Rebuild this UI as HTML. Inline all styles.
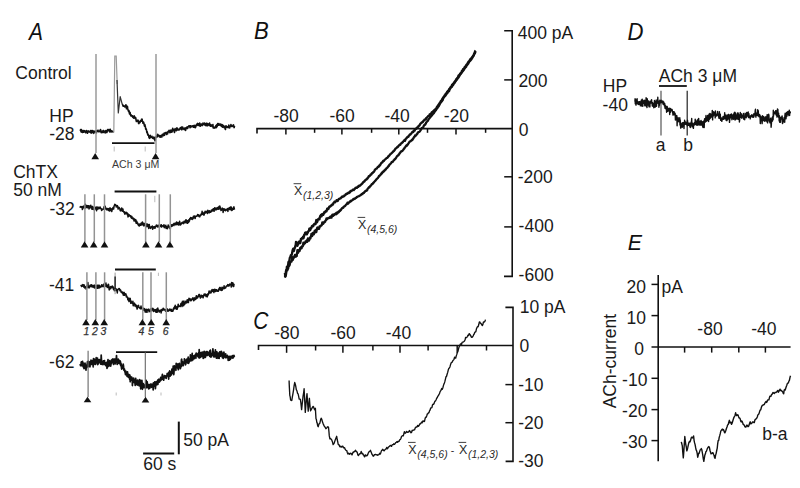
<!DOCTYPE html>
<html><head><meta charset="utf-8"><title>Figure</title>
<style>html,body{margin:0;padding:0;background:#fff;width:800px;height:488px;overflow:hidden}
svg{display:block;font-family:"Liberation Sans",sans-serif}</style></head>
<body><svg width="800" height="488" viewBox="0 0 800 488" font-family="Liberation Sans, sans-serif"><text x="0" y="0" font-size="23" font-style="italic" fill="#111" transform="translate(29.0 39.6) scale(0.910 1)">A</text><text x="15.3" y="78.6" font-size="17.50" text-anchor="start" fill="#1a1a1a" >Control</text><text x="73.6" y="122.2" font-size="17.50" text-anchor="end" fill="#1a1a1a" >HP</text><text x="74.5" y="140.0" font-size="17.50" text-anchor="end" fill="#1a1a1a" >-28</text><path d="M80.0 130.2L80.3 130.5L80.6 129.4L80.9 131.2L81.2 132.1L81.5 129.4L81.8 132.2L82.1 130.7L82.4 132.5L82.7 130.8L83.0 132.0L83.3 132.3L83.6 130.5L83.9 132.2L84.2 132.1L84.5 130.7L84.8 130.6L85.1 131.3L85.4 131.0L85.7 132.8L86.0 132.3L86.3 132.4L86.6 130.6L86.9 130.6L87.2 131.1L87.5 133.3L87.8 131.5L88.1 132.1L88.4 131.6L88.7 130.9L89.0 132.0L89.3 131.8L89.6 131.7L89.9 132.1L90.2 131.9L90.5 130.6L90.8 131.3L91.1 133.2L91.4 130.9L91.7 130.5L92.0 132.7L92.3 132.7L92.6 130.4L92.9 132.0L93.2 131.0L93.5 131.0L93.8 133.4L94.1 131.4L94.4 131.2L94.7 131.3L95.0 132.1L95.3 131.4L95.6 131.7L95.9 130.9L96.2 131.5L96.5 132.8L96.8 130.8L97.1 131.5L97.4 131.2L97.7 130.5L98.0 130.1L98.3 131.3L98.6 131.3L98.9 131.9L99.2 131.0L99.5 131.0L99.8 131.5L100.1 130.7L100.4 129.5L100.7 129.8L101.0 132.3L101.3 132.7L101.6 131.2L101.9 131.3L102.2 131.5L102.5 132.4L102.8 132.4L103.1 130.6L103.4 132.4L103.7 130.5L104.0 131.8L104.3 131.1L104.6 131.5L104.9 132.6L105.2 132.9L105.5 131.4L105.8 130.5L106.1 132.4L106.4 130.8L106.7 131.7L107.0 132.5L107.3 130.4L107.6 129.4L107.9 131.0L108.2 130.7L108.5 129.4L108.8 130.1L109.1 129.9L109.4 129.6L109.7 132.0L110.0 130.9L110.3 129.2L110.6 131.4L110.9 131.6L111.2 131.9L111.5 130.7L111.8 131.4L112.1 131.6L112.4 131.1L112.7 131.7L113.0 131.6L113.3 132.1L113.6 132.3" stroke="#111" stroke-width="1.5" fill="none" stroke-linejoin="round"/><path d="M113.8 132.5L114.8 56L116.2 56L117.2 84" stroke="#999" stroke-width="1.2" fill="none"/><path d="M117.0 80L118.3 113L120.2 96.6L122.3 104.5" stroke="#333" stroke-width="1.2" fill="none" stroke-linejoin="round"/><path d="M122.3 104.9L122.6 104.6L122.9 105.4L123.2 106.2L123.5 105.9L123.8 105.9L124.1 106.4L124.4 106.1L124.7 106.8L125.0 106.2L125.3 106.9L125.6 105.6L125.9 104.7L126.2 105.7L126.5 108.8L126.8 108.2L127.1 108.4L127.4 106.3L127.7 108.4L128.0 109.7L128.3 110.7L128.6 111.5L128.9 110.4L129.2 111.9L129.5 113.9L129.8 113.3L130.1 112.4L130.4 114.9L130.7 115.1L131.0 115.9L131.3 115.1L131.6 115.9L131.9 115.7L132.2 116.4L132.5 115.9L132.8 117.4L133.1 117.4L133.4 116.6L133.7 118.2L134.0 116.6L134.3 115.9L134.6 118.0L134.9 117.8L135.2 118.5L135.5 117.4L135.8 118.2L136.1 120.3L136.4 121.5L136.7 121.1L137.0 120.6L137.3 120.9L137.6 121.4L137.9 120.1L138.2 120.7L138.5 123.2L138.8 123.6L139.1 122.9L139.4 122.3L139.7 121.7L140.0 122.6L140.3 120.8L140.6 120.8L140.9 121.3L141.2 121.3L141.5 119.4L141.8 119.7L142.1 119.1L142.4 121.1L142.7 121.7L143.0 123.3L143.3 122.7L143.6 122.2L143.9 123.3L144.2 124.9L144.5 126.1L144.8 124.5L145.1 125.7L145.4 126.9L145.7 129.2L146.0 128.7L146.3 129.0L146.6 130.9L146.9 132.7L147.2 131.7L147.5 133.4L147.8 135.0L148.1 134.3L148.4 135.4L148.7 135.6L149.0 137.7L149.3 137.8L149.6 138.4L149.9 138.2L150.2 135.3L150.5 137.0L150.8 136.7L151.1 137.1L151.4 136.7L151.7 137.2L152.0 136.3L152.3 137.9L152.6 138.2L152.9 138.2L153.2 137.6L153.5 138.7L153.8 137.0L154.1 138.7L154.4 137.6L154.7 138.7L155.0 140.8L155.3 139.9L155.6 137.6L155.9 137.2L156.2 136.6L156.5 137.1L156.8 137.2L157.1 135.1L157.4 136.5L157.7 134.4L158.0 135.1L158.3 135.2L158.6 135.3L158.9 135.9L159.2 136.6L159.5 136.8L159.8 135.5L160.1 135.8L160.4 137.2L160.7 137.0L161.0 135.5L161.3 136.1L161.6 135.9L161.9 136.9L162.2 134.5L162.5 134.2L162.8 134.3L163.1 134.9L163.4 135.6L163.7 135.6L164.0 133.3L164.3 133.0L164.6 135.2L164.9 133.7L165.2 132.9L165.5 133.4L165.8 133.4L166.1 132.3L166.4 133.8L166.7 134.5L167.0 133.1L167.3 132.7L167.6 133.8L167.9 131.6L168.2 132.0L168.5 131.1L168.8 132.0L169.1 130.2L169.4 131.7L169.7 131.4L170.0 132.8L170.3 131.8L170.6 131.4L170.9 130.0L171.2 132.2L171.5 131.0L171.8 130.9L172.1 132.0L172.4 129.8L172.7 128.3L173.0 130.4L173.3 130.1L173.6 129.4L173.9 130.5L174.2 131.5L174.5 132.4L174.8 130.5L175.1 128.6L175.4 128.8L175.7 129.9L176.0 130.0L176.3 130.7L176.6 129.6L176.9 127.8L177.2 129.3L177.5 128.5L177.8 130.0L178.1 129.4L178.4 129.8L178.7 130.0L179.0 130.0L179.3 129.0L179.6 129.2L179.9 129.4L180.2 127.9L180.5 128.5L180.8 128.5L181.1 128.8L181.4 127.1L181.7 129.8L182.0 129.6L182.3 127.9L182.6 127.1L182.9 128.6L183.2 128.2L183.5 128.4L183.8 129.2L184.1 128.9L184.4 129.6L184.7 128.1L185.0 128.7L185.3 128.9L185.6 130.4L185.9 127.9L186.2 128.2L186.5 127.9L186.8 128.3L187.1 126.8L187.4 127.7L187.7 128.4L188.0 127.2L188.3 126.7L188.6 126.6L188.9 125.7L189.2 126.4L189.5 126.0L189.8 126.8L190.1 127.7L190.4 125.8L190.7 125.7L191.0 127.0L191.3 126.7L191.6 126.6L191.9 126.1L192.2 126.6L192.5 126.2L192.8 125.7L193.1 125.8L193.4 127.2L193.7 125.5L194.0 125.7L194.3 125.7L194.6 127.4L194.9 125.4L195.2 125.7L195.5 127.6L195.8 126.2L196.1 125.9L196.4 125.6L196.7 124.3L197.0 124.9L197.3 123.6L197.6 123.4L197.9 125.4L198.2 124.9L198.5 123.9L198.8 125.1L199.1 125.6L199.4 124.8L199.7 123.0L200.0 125.2L200.3 126.3L200.6 125.3L200.9 124.3L201.2 124.0L201.5 124.9L201.8 124.2L202.1 125.6L202.4 125.2L202.7 124.6L203.0 123.0L203.3 123.8L203.6 124.2L203.9 124.6L204.2 124.3L204.5 123.1L204.8 123.9L205.1 125.1L205.4 124.3L205.7 125.6L206.0 125.7L206.3 123.2L206.6 124.1L206.9 123.2L207.2 124.5L207.5 125.7L207.8 125.3L208.1 123.9L208.4 125.0L208.7 124.4L209.0 124.6L209.3 125.4L209.6 123.1L209.9 125.3L210.2 124.8L210.5 126.3L210.8 125.9L211.1 124.7L211.4 125.6L211.7 126.2L212.0 125.5L212.3 126.5L212.6 125.3L212.9 124.5L213.2 128.0L213.5 127.9L213.8 127.4L214.1 127.4L214.4 128.1L214.7 127.2L215.0 127.1L215.3 127.3L215.6 127.7L215.9 125.5L216.2 127.7L216.5 125.8L216.8 124.9L217.1 126.7L217.4 124.8L217.7 123.5L218.0 124.7L218.3 125.3L218.6 125.2L218.9 123.6L219.2 124.1L219.5 125.0L219.8 124.5L220.1 125.2L220.4 124.2L220.7 124.1L221.0 125.5L221.3 126.3L221.6 126.0L221.9 124.5L222.2 125.1L222.5 127.1L222.8 125.0L223.1 125.9L223.4 126.7L223.7 125.7L224.0 127.5L224.3 126.5L224.6 127.8L224.9 126.5L225.2 129.0L225.5 129.5L225.8 125.9L226.1 125.8L226.4 126.5L226.7 126.4L227.0 127.1L227.3 126.9L227.6 127.2L227.9 127.6L228.2 126.6L228.5 127.0L228.8 125.1L229.1 127.6L229.4 126.5L229.7 127.9L230.0 126.3L230.3 125.8L230.6 126.4L230.9 124.5L231.2 125.2L231.5 125.4L231.8 126.5L232.1 126.1L232.4 126.2L232.7 125.8L233.0 126.4L233.3 124.9L233.6 125.0L233.9 126.9L234.2 127.6L234.5 125.8" stroke="#111" stroke-width="1.6" fill="none" stroke-linejoin="round"/><line x1="96.0" y1="54" x2="96.0" y2="153" stroke="#939393" stroke-width="1.4"/><line x1="156.0" y1="54" x2="156.0" y2="153" stroke="#939393" stroke-width="1.4"/><line x1="112" y1="143.1" x2="154.5" y2="143.1" stroke="#111" stroke-width="1.8"/><line x1="114.2" y1="146.5" x2="114.2" y2="151.5" stroke="#bbb" stroke-width="1"/><line x1="145.2" y1="146.5" x2="145.2" y2="151.5" stroke="#bbb" stroke-width="1"/><path d="M95.2 153.0L91.4 159.3L99.0 159.3Z" fill="#111"/><path d="M155.6 153.0L151.8 159.3L159.4 159.3Z" fill="#111"/><text x="112.0" y="167.6" font-size="10.60" text-anchor="start" fill="#3a3a3a" >ACh 3 &#956;M</text><text x="13.2" y="178.4" font-size="17.50" text-anchor="start" fill="#1a1a1a" >ChTX</text><text x="13.2" y="195.7" font-size="17.50" text-anchor="start" fill="#1a1a1a" >50 nM</text><text x="74.8" y="214.6" font-size="17.50" text-anchor="end" fill="#1a1a1a" >-32</text><path d="M80.0 207.7L80.3 206.7L80.6 206.6L80.9 206.5L81.2 206.8L81.5 207.5L81.8 207.4L82.1 206.4L82.4 209.6L82.7 208.7L83.0 208.5L83.3 206.6L83.6 206.2L83.9 207.2L84.2 207.2L84.5 205.2L84.8 207.1L85.1 208.2L85.4 204.2L85.7 206.6L86.0 206.3L86.3 206.5L86.6 207.5L86.9 205.5L87.2 207.1L87.5 207.8L87.8 205.7L88.1 205.7L88.4 206.1L88.7 205.7L89.0 208.9L89.3 206.8L89.6 208.0L89.9 206.1L90.2 207.7L90.5 207.5L90.8 205.2L91.1 207.8L91.4 207.6L91.7 208.0L92.0 209.2L92.3 206.4L92.6 206.7L92.9 209.2L93.2 208.1L93.5 209.5L93.8 208.8L94.1 207.0L94.4 207.0L94.7 209.3L95.0 209.0L95.3 207.6L95.6 207.7L95.9 207.4L96.2 207.1L96.5 210.8L96.8 209.6L97.1 207.2L97.4 207.1L97.7 208.4L98.0 209.1L98.3 208.3L98.6 207.2L98.9 208.5L99.2 207.6L99.5 207.5L99.8 208.6L100.1 207.1L100.4 208.0L100.7 208.5L101.0 208.6L101.3 208.7L101.6 210.5L101.9 210.2L102.2 209.6L102.5 209.4L102.8 209.0L103.1 208.8L103.4 209.1L103.7 208.1L104.0 206.8L104.3 208.1L104.6 208.7L104.9 208.2L105.2 206.2L105.5 208.2L105.8 208.9L106.1 209.2L106.4 208.4L106.7 209.8L107.0 208.6L107.3 208.7L107.6 209.7L107.9 208.5L108.2 208.8L108.5 210.6L108.8 208.9L109.1 208.7L109.4 209.9L109.7 211.0L110.0 207.7L110.3 209.6L110.6 210.6L110.9 209.2L111.2 208.7L111.5 210.3L111.8 211.5L112.1 209.5L112.4 209.5L112.7 209.0L113.0 207.5L113.3 207.8L113.6 209.0L113.9 207.4L114.2 205.7L114.5 205.4L114.8 204.3L115.1 205.0L115.4 205.2L115.7 204.8L116.0 205.8L116.3 207.0L116.6 205.9L116.9 206.6L117.2 205.6L117.5 205.9L117.8 206.8L118.1 209.1L118.4 207.4L118.7 208.0L119.0 207.4L119.3 207.8L119.6 208.8L119.9 208.9L120.2 210.6L120.5 209.7L120.8 210.9L121.1 208.8L121.4 209.3L121.7 207.9L122.0 209.5L122.3 210.9L122.6 211.2L122.9 208.9L123.2 211.1L123.5 211.5L123.8 212.1L124.1 211.7L124.4 212.3L124.7 214.0L125.0 212.8L125.3 212.4L125.6 213.3L125.9 213.6L126.2 213.0L126.5 212.4L126.8 212.6L127.1 213.6L127.4 214.9L127.7 213.6L128.0 217.0L128.3 216.4L128.6 214.6L128.9 216.2L129.2 214.8L129.5 215.3L129.8 215.6L130.1 215.9L130.4 215.8L130.7 215.8L131.0 217.5L131.3 216.2L131.6 218.2L131.9 216.6L132.2 218.0L132.5 218.8L132.8 218.2L133.1 218.0L133.4 218.1L133.7 218.9L134.0 221.0L134.3 220.8L134.6 219.0L134.9 220.4L135.2 220.6L135.5 221.6L135.8 219.8L136.1 223.2L136.4 221.9L136.7 221.2L137.0 222.3L137.3 223.5L137.6 223.0L137.9 224.3L138.2 224.2L138.5 225.5L138.8 225.1L139.1 224.0L139.4 226.1L139.7 225.1L140.0 225.2L140.3 223.9L140.6 223.9L140.9 225.2L141.2 223.0L141.5 224.5L141.8 224.7L142.1 224.4L142.4 221.9L142.7 223.6L143.0 224.9L143.3 224.5L143.6 225.7L143.9 223.2L144.2 225.4L144.5 224.1L144.8 225.7L145.1 223.6L145.4 225.9L145.7 226.0L146.0 226.7L146.3 224.1L146.6 224.1L146.9 226.6L147.2 224.0L147.5 225.3L147.8 226.3L148.1 224.6L148.4 226.8L148.7 228.4L149.0 226.0L149.3 224.5L149.6 227.0L149.9 227.4L150.2 227.7L150.5 228.4L150.8 227.0L151.1 227.7L151.4 226.8L151.7 226.6L152.0 227.6L152.3 226.0L152.6 229.3L152.9 227.3L153.2 226.8L153.5 228.0L153.8 228.0L154.1 227.5L154.4 226.6L154.7 227.4L155.0 228.3L155.3 227.0L155.6 226.5L155.9 226.5L156.2 225.3L156.5 225.0L156.8 225.4L157.1 225.2L157.4 226.9L157.7 226.4L158.0 226.3L158.3 226.9L158.6 225.2L158.9 225.6L159.2 226.4L159.5 226.6L159.8 226.8L160.1 225.6L160.4 225.4L160.7 226.3L161.0 224.9L161.3 224.7L161.6 227.1L161.9 225.5L162.2 226.1L162.5 226.1L162.8 226.0L163.1 225.6L163.4 226.5L163.7 226.6L164.0 224.7L164.3 227.7L164.6 226.2L164.9 226.1L165.2 226.9L165.5 225.9L165.8 225.2L166.1 228.5L166.4 226.5L166.7 227.4L167.0 227.3L167.3 228.7L167.6 226.8L167.9 226.9L168.2 224.9L168.5 226.5L168.8 226.0L169.1 226.4L169.4 228.1L169.7 227.2L170.0 227.1L170.3 229.0L170.6 226.6L170.9 225.0L171.2 226.3L171.5 224.7L171.8 226.3L172.1 226.2L172.4 225.4L172.7 224.6L173.0 224.6L173.3 224.7L173.6 223.7L173.9 225.6L174.2 223.2L174.5 224.4L174.8 223.7L175.1 223.9L175.4 224.6L175.7 223.0L176.0 224.8L176.3 222.8L176.6 221.9L176.9 222.3L177.2 223.2L177.5 224.5L177.8 222.7L178.1 222.8L178.4 224.0L178.7 225.1L179.0 225.0L179.3 222.6L179.6 221.2L179.9 223.4L180.2 224.4L180.5 225.0L180.8 223.4L181.1 224.3L181.4 223.1L181.7 223.3L182.0 222.9L182.3 222.2L182.6 222.6L182.9 223.0L183.2 223.6L183.5 222.1L183.8 223.5L184.1 221.2L184.4 222.4L184.7 221.7L185.0 221.0L185.3 222.7L185.6 220.9L185.9 219.8L186.2 219.9L186.5 220.3L186.8 222.9L187.1 222.0L187.4 223.3L187.7 220.7L188.0 220.6L188.3 221.6L188.6 222.5L188.9 219.7L189.2 221.3L189.5 220.8L189.8 218.4L190.1 218.7L190.4 218.8L190.7 217.5L191.0 219.1L191.3 218.3L191.6 218.0L191.9 217.7L192.2 219.4L192.5 218.2L192.8 219.1L193.1 218.3L193.4 216.2L193.7 218.0L194.0 216.9L194.3 215.9L194.6 215.9L194.9 216.9L195.2 218.5L195.5 216.3L195.8 216.4L196.1 216.5L196.4 216.3L196.7 216.0L197.0 216.2L197.3 216.0L197.6 214.6L197.9 215.1L198.2 214.7L198.5 215.6L198.8 216.2L199.1 216.6L199.4 215.6L199.7 216.8L200.0 214.9L200.3 215.4L200.6 215.6L200.9 214.9L201.2 214.6L201.5 213.2L201.8 214.5L202.1 211.3L202.4 213.5L202.7 212.2L203.0 214.5L203.3 212.9L203.6 213.9L203.9 215.2L204.2 214.6L204.5 212.5L204.8 212.8L205.1 211.2L205.4 213.1L205.7 212.5L206.0 211.8L206.3 211.4L206.6 211.7L206.9 212.5L207.2 213.1L207.5 213.4L207.8 210.3L208.1 211.2L208.4 210.8L208.7 212.5L209.0 212.6L209.3 212.8L209.6 210.8L209.9 212.3L210.2 211.9L210.5 211.6L210.8 212.1L211.1 211.2L211.4 210.1L211.7 211.5L212.0 210.7L212.3 209.7L212.6 210.5L212.9 210.7L213.2 208.7L213.5 209.0L213.8 211.0L214.1 211.3L214.4 208.7L214.7 207.7L215.0 208.2L215.3 208.8L215.6 208.8L215.9 210.0L216.2 208.0L216.5 208.1L216.8 209.4L217.1 207.9L217.4 208.6L217.7 207.4L218.0 208.7L218.3 209.3L218.6 208.0L218.9 206.6L219.2 209.0L219.5 207.9L219.8 206.0L220.1 206.9L220.4 208.5L220.7 208.9L221.0 210.5L221.3 210.3L221.6 209.4L221.9 209.7L222.2 208.1L222.5 209.2L222.8 208.8L223.1 212.5L223.4 210.6L223.7 208.7L224.0 210.4L224.3 210.3L224.6 209.0L224.9 209.4L225.2 209.7L225.5 210.7L225.8 210.6L226.1 209.4L226.4 210.1L226.7 209.2L227.0 209.4L227.3 208.9L227.6 210.3L227.9 211.4L228.2 208.3L228.5 209.1L228.8 209.4L229.1 208.1L229.4 208.5L229.7 207.4L230.0 209.6L230.3 209.8L230.6 208.9L230.9 206.8L231.2 207.0L231.5 209.3L231.8 210.5L232.1 209.3L232.4 210.1L232.7 208.3L233.0 208.1L233.3 207.9L233.6 209.3L233.9 206.8L234.2 208.2L234.5 209.6" stroke="#111" stroke-width="1.5" fill="none" stroke-linejoin="round"/><line x1="114.6" y1="191.5" x2="156.4" y2="191.5" stroke="#111" stroke-width="1.8"/><line x1="154.8" y1="195.8" x2="154.8" y2="202.2" stroke="#bbb" stroke-width="1"/><line x1="84.9" y1="194.3" x2="84.9" y2="242" stroke="#939393" stroke-width="1.5"/><line x1="94.3" y1="194.3" x2="94.3" y2="242" stroke="#939393" stroke-width="1.5"/><line x1="104.5" y1="194.3" x2="104.5" y2="242" stroke="#939393" stroke-width="1.5"/><line x1="145.6" y1="194.3" x2="145.6" y2="242" stroke="#939393" stroke-width="1.5"/><line x1="159.3" y1="194.3" x2="159.3" y2="242" stroke="#939393" stroke-width="1.5"/><line x1="170.3" y1="194.3" x2="170.3" y2="242" stroke="#939393" stroke-width="1.5"/><path d="M84.6 241.2L80.8 247.5L88.4 247.5Z" fill="#111"/><path d="M93.7 241.2L89.9 247.5L97.5 247.5Z" fill="#111"/><path d="M104.5 241.2L100.7 247.5L108.3 247.5Z" fill="#111"/><path d="M145.9 241.2L142.1 247.5L149.7 247.5Z" fill="#111"/><path d="M158.5 241.2L154.7 247.5L162.3 247.5Z" fill="#111"/><path d="M169.9 241.2L166.1 247.5L173.7 247.5Z" fill="#111"/><text x="74.3" y="291.2" font-size="17.50" text-anchor="end" fill="#1a1a1a" >-41</text><path d="M80.7 285.0L81.0 285.5L81.3 285.3L81.6 286.5L81.9 285.9L82.2 286.2L82.5 285.5L82.8 284.6L83.1 284.9L83.4 284.8L83.7 287.0L84.0 287.1L84.3 285.1L84.6 287.9L84.9 286.9L85.2 287.0L85.5 287.3L85.8 286.7L86.1 289.1L86.4 286.9L86.7 285.7L87.0 287.7L87.3 285.2L87.6 285.1L87.9 282.5L88.2 287.2L88.5 287.7L88.8 287.3L89.1 286.8L89.4 287.7L89.7 285.7L90.0 286.3L90.3 285.1L90.6 285.2L90.9 286.6L91.2 286.7L91.5 284.8L91.8 286.0L92.1 285.2L92.4 285.8L92.7 287.0L93.0 286.1L93.3 285.8L93.6 285.5L93.9 287.5L94.2 285.0L94.5 287.9L94.8 287.4L95.1 286.6L95.4 285.7L95.7 286.8L96.0 287.7L96.3 288.0L96.6 286.0L96.9 285.2L97.2 287.9L97.5 288.3L97.8 285.8L98.1 285.1L98.4 286.9L98.7 287.5L99.0 288.1L99.3 285.3L99.6 287.0L99.9 287.5L100.2 286.2L100.5 287.1L100.8 287.1L101.1 286.0L101.4 286.4L101.7 284.7L102.0 285.5L102.3 286.4L102.6 285.9L102.9 286.5L103.2 285.2L103.5 284.3L103.8 285.1L104.1 285.1L104.4 287.1L104.7 286.0L105.0 284.4L105.3 286.0L105.6 283.9L105.9 282.9L106.2 286.5L106.5 284.8L106.8 286.1L107.1 285.7L107.4 287.6L107.7 286.8L108.0 286.3L108.3 284.2L108.6 284.6L108.9 288.0L109.2 289.9L109.5 288.6L109.8 287.6L110.1 287.7L110.4 286.6L110.7 288.8L111.0 288.0L111.3 286.8L111.6 286.5L111.9 286.8L112.2 286.0L112.5 287.6L112.8 286.5L113.1 287.7L113.4 289.2L113.7 287.4L114.0 288.6L114.3 290.7L114.6 290.4L114.9 289.8L115.2 288.4L115.5 290.4L115.8 288.6L116.1 289.3L116.4 290.6L116.7 289.4L117.0 290.5L117.3 293.0L117.6 289.8L117.9 289.8L118.2 289.2L118.5 289.0L118.8 288.6L119.1 288.7L119.4 288.6L119.7 289.7L120.0 290.7L120.3 289.8L120.6 290.0L120.9 291.0L121.2 292.2L121.5 291.8L121.8 292.7L122.1 292.9L122.4 292.0L122.7 293.7L123.0 292.2L123.3 295.2L123.6 294.2L123.9 293.2L124.2 292.5L124.5 295.3L124.8 293.4L125.1 293.8L125.4 294.7L125.7 294.1L126.0 294.0L126.3 296.8L126.6 295.8L126.9 297.2L127.2 297.0L127.5 297.2L127.8 299.6L128.1 298.1L128.4 300.4L128.7 298.3L129.0 301.6L129.3 298.8L129.6 299.9L129.9 298.3L130.2 298.4L130.5 300.9L130.8 303.3L131.1 301.1L131.4 303.1L131.7 302.0L132.0 302.3L132.3 302.6L132.6 303.5L132.9 301.3L133.2 305.8L133.5 304.6L133.8 303.3L134.1 303.9L134.4 303.1L134.7 303.5L135.0 306.1L135.3 305.5L135.6 304.7L135.9 305.7L136.2 306.8L136.5 305.5L136.8 307.3L137.1 309.1L137.4 307.9L137.7 306.7L138.0 305.8L138.3 305.3L138.6 305.7L138.9 307.3L139.2 307.6L139.5 307.9L139.8 307.8L140.1 307.7L140.4 308.7L140.7 307.5L141.0 306.1L141.3 308.8L141.6 308.3L141.9 307.4L142.2 308.0L142.5 308.1L142.8 309.5L143.1 310.1L143.4 309.2L143.7 308.2L144.0 310.1L144.3 309.3L144.6 308.8L144.9 310.8L145.2 312.0L145.5 309.4L145.8 311.5L146.1 312.1L146.4 311.5L146.7 309.2L147.0 312.3L147.3 309.7L147.6 309.6L147.9 309.9L148.2 310.3L148.5 309.3L148.8 309.1L149.1 311.8L149.4 311.0L149.7 310.2L150.0 311.6L150.3 310.9L150.6 310.6L150.9 308.8L151.2 310.3L151.5 309.1L151.8 310.8L152.1 308.3L152.4 309.3L152.7 309.2L153.0 308.4L153.3 309.5L153.6 311.5L153.9 309.5L154.2 309.4L154.5 311.0L154.8 310.9L155.1 310.8L155.4 309.8L155.7 311.0L156.0 312.3L156.3 309.8L156.6 309.1L156.9 311.2L157.2 312.2L157.5 309.7L157.8 308.1L158.1 309.8L158.4 310.6L158.7 310.7L159.0 311.8L159.3 312.0L159.6 310.6L159.9 311.3L160.2 310.1L160.5 311.1L160.8 310.7L161.1 313.0L161.4 311.2L161.7 309.6L162.0 309.6L162.3 310.5L162.6 309.2L162.9 309.8L163.2 308.2L163.5 310.0L163.8 309.4L164.1 309.1L164.4 309.8L164.7 309.9L165.0 310.3L165.3 309.9L165.6 311.3L165.9 309.4L166.2 310.8L166.5 309.9L166.8 310.3L167.1 308.8L167.4 309.3L167.7 311.1L168.0 311.3L168.3 310.2L168.6 310.9L168.9 310.1L169.2 310.0L169.5 309.1L169.8 310.2L170.1 310.5L170.4 310.2L170.7 309.2L171.0 310.8L171.3 311.1L171.6 309.6L171.9 311.3L172.2 310.7L172.5 310.7L172.8 311.3L173.1 310.6L173.4 308.5L173.7 308.4L174.0 307.5L174.3 308.5L174.6 306.5L174.9 309.0L175.2 305.3L175.5 308.0L175.8 306.3L176.1 306.5L176.4 308.2L176.7 309.3L177.0 309.3L177.3 308.8L177.6 306.6L177.9 305.7L178.2 304.2L178.5 306.7L178.8 306.6L179.1 306.2L179.4 306.2L179.7 305.9L180.0 306.0L180.3 306.5L180.6 304.8L180.9 303.6L181.2 304.7L181.5 303.0L181.8 305.0L182.1 306.5L182.4 301.3L182.7 302.8L183.0 304.3L183.3 301.9L183.6 305.8L183.9 300.9L184.2 304.5L184.5 304.6L184.8 304.1L185.1 302.4L185.4 302.7L185.7 301.3L186.0 303.1L186.3 301.2L186.6 301.6L186.9 302.7L187.2 299.8L187.5 300.9L187.8 301.4L188.1 299.7L188.4 302.6L188.7 300.7L189.0 298.2L189.3 299.9L189.6 299.1L189.9 298.8L190.2 300.0L190.5 299.5L190.8 300.8L191.1 299.0L191.4 300.4L191.7 299.2L192.0 299.8L192.3 298.9L192.6 298.8L192.9 297.7L193.2 298.7L193.5 299.2L193.8 300.8L194.1 299.7L194.4 298.1L194.7 297.9L195.0 299.7L195.3 298.9L195.6 299.3L195.9 298.9L196.2 295.9L196.5 295.8L196.8 298.4L197.1 297.8L197.4 297.4L197.7 297.7L198.0 296.1L198.3 296.5L198.6 296.0L198.9 294.4L199.2 296.6L199.5 294.5L199.8 296.0L200.1 296.7L200.4 298.0L200.7 296.5L201.0 296.7L201.3 295.3L201.6 297.0L201.9 295.6L202.2 296.5L202.5 296.2L202.8 295.9L203.1 297.8L203.4 296.3L203.7 295.8L204.0 294.4L204.3 294.1L204.6 295.1L204.9 295.5L205.2 294.0L205.5 295.5L205.8 295.2L206.1 296.6L206.4 295.8L206.7 294.5L207.0 295.2L207.3 296.8L207.6 294.8L207.9 293.8L208.2 295.0L208.5 294.3L208.8 292.3L209.1 291.0L209.4 291.4L209.7 292.9L210.0 292.8L210.3 292.1L210.6 292.0L210.9 293.0L211.2 290.6L211.5 292.1L211.8 290.6L212.1 289.5L212.4 290.6L212.7 291.1L213.0 290.8L213.3 289.8L213.6 290.8L213.9 292.6L214.2 289.6L214.5 289.3L214.8 290.9L215.1 291.3L215.4 291.5L215.7 289.5L216.0 291.3L216.3 289.7L216.6 289.7L216.9 290.3L217.2 290.5L217.5 291.2L217.8 290.9L218.1 290.4L218.4 291.2L218.7 288.9L219.0 290.2L219.3 288.9L219.6 287.6L219.9 289.6L220.2 287.6L220.5 289.6L220.8 290.3L221.1 288.3L221.4 288.3L221.7 290.5L222.0 287.3L222.3 290.1L222.6 289.5L222.9 287.6L223.2 288.1L223.5 288.5L223.8 288.6L224.1 285.8L224.4 288.5L224.7 287.0L225.0 287.3L225.3 287.3L225.6 288.1L225.9 287.3L226.2 286.5L226.5 285.9L226.8 286.0L227.1 285.6L227.4 285.6L227.7 284.6L228.0 286.1L228.3 285.5L228.6 284.8L228.9 286.0L229.2 284.5L229.5 285.2L229.8 283.9L230.1 284.5L230.4 284.8L230.7 284.2L231.0 285.4L231.3 287.0L231.6 282.6L231.9 285.2L232.2 284.8L232.5 283.2L232.8 282.9L233.1 286.5L233.4 284.6L233.7 286.4L234.0 284.1L234.3 283.7" stroke="#111" stroke-width="1.5" fill="none" stroke-linejoin="round"/><line x1="115" y1="269.5" x2="155.8" y2="269.5" stroke="#111" stroke-width="1.8"/><line x1="115.1" y1="272.6" x2="115.1" y2="294.2" stroke="#999" stroke-width="1"/><line x1="115.1" y1="276.5" x2="115.1" y2="289" stroke="#111" stroke-width="1.3"/><line x1="158.4" y1="272.7" x2="158.4" y2="276" stroke="#bbb" stroke-width="1"/><line x1="86.9" y1="272.3" x2="86.9" y2="320" stroke="#939393" stroke-width="1.5"/><line x1="95.9" y1="272.3" x2="95.9" y2="320" stroke="#939393" stroke-width="1.5"/><line x1="104.6" y1="272.3" x2="104.6" y2="320" stroke="#939393" stroke-width="1.5"/><line x1="142.8" y1="272.3" x2="142.8" y2="320" stroke="#939393" stroke-width="1.5"/><line x1="151.0" y1="272.3" x2="151.0" y2="320" stroke="#939393" stroke-width="1.5"/><line x1="166.3" y1="272.3" x2="166.3" y2="320" stroke="#939393" stroke-width="1.5"/><path d="M86.0 319.0L82.2 325.3L89.8 325.3Z" fill="#111"/><path d="M95.3 319.0L91.5 325.3L99.1 325.3Z" fill="#111"/><path d="M104.2 319.0L100.4 325.3L108.0 325.3Z" fill="#111"/><path d="M142.4 319.0L138.6 325.3L146.2 325.3Z" fill="#111"/><path d="M151.2 319.0L147.4 325.3L155.0 325.3Z" fill="#111"/><path d="M166.2 319.0L162.4 325.3L170.0 325.3Z" fill="#111"/><text x="86.3" y="334.8" font-size="10.40" text-anchor="middle" fill="#333" font-style="italic" stroke="#333" stroke-width="0.25">1</text><text x="94.8" y="334.8" font-size="10.40" text-anchor="middle" fill="#333" font-style="italic" stroke="#333" stroke-width="0.25">2</text><text x="103.5" y="334.8" font-size="10.40" text-anchor="middle" fill="#333" font-style="italic" stroke="#333" stroke-width="0.25">3</text><text x="141.5" y="334.8" font-size="10.40" text-anchor="middle" fill="#333" font-style="italic" stroke="#333" stroke-width="0.25">4</text><text x="150.9" y="334.8" font-size="10.40" text-anchor="middle" fill="#333" font-style="italic" stroke="#333" stroke-width="0.25">5</text><text x="165.7" y="334.8" font-size="10.40" text-anchor="middle" fill="#333" font-style="italic" stroke="#333" stroke-width="0.25">6</text><text x="74.4" y="367.6" font-size="17.50" text-anchor="end" fill="#1a1a1a" >-62</text><path d="M80.2 363.9L80.5 365.7L80.7 365.5L81.0 365.7L81.2 362.2L81.5 361.9L81.7 364.0L82.0 365.6L82.2 362.0L82.5 361.3L82.7 365.7L83.0 362.5L83.2 367.0L83.5 365.3L83.7 367.1L84.0 368.7L84.2 367.3L84.5 368.1L84.7 363.5L85.0 363.2L85.2 364.2L85.5 366.1L85.7 367.4L86.0 370.2L86.2 365.7L86.5 365.5L86.7 367.6L87.0 365.2L87.2 363.9L87.5 361.7L87.7 366.6L88.0 362.9L88.2 366.0L88.5 361.3L88.7 366.4L89.0 363.2L89.2 366.5L89.5 362.0L89.7 364.3L90.0 366.8L90.2 361.6L90.5 362.5L90.7 362.8L91.0 360.2L91.2 364.5L91.5 364.0L91.7 361.0L92.0 364.3L92.2 361.4L92.5 360.6L92.7 363.7L93.0 362.7L93.2 366.9L93.5 358.7L93.7 362.9L94.0 364.3L94.2 359.3L94.5 359.2L94.7 363.2L95.0 361.1L95.2 362.1L95.5 364.4L95.7 362.2L96.0 361.5L96.2 357.7L96.5 361.9L96.7 360.6L97.0 362.9L97.2 361.6L97.5 358.1L97.7 364.7L98.0 364.1L98.2 363.6L98.5 360.0L98.7 362.0L99.0 361.4L99.2 361.1L99.5 359.5L99.7 362.7L100.0 362.8L100.2 362.8L100.5 360.9L100.7 364.1L101.0 361.1L101.2 355.1L101.5 360.2L101.7 362.0L102.0 364.5L102.2 362.0L102.5 361.9L102.7 361.9L103.0 364.6L103.2 361.6L103.5 360.8L103.7 361.1L104.0 363.3L104.2 361.5L104.5 360.5L104.7 364.5L105.0 362.6L105.2 364.8L105.5 363.9L105.7 365.6L106.0 365.2L106.2 362.6L106.5 363.8L106.7 362.4L107.0 368.5L107.2 365.7L107.5 367.2L107.7 362.8L108.0 359.5L108.2 366.4L108.5 364.1L108.7 364.4L109.0 364.5L109.2 365.9L109.5 365.1L109.7 360.7L110.0 365.4L110.2 362.4L110.5 362.7L110.7 366.1L111.0 364.2L111.2 363.3L111.5 360.0L111.7 362.3L112.0 362.6L112.2 360.6L112.5 359.1L112.7 360.5L113.0 359.0L113.2 362.4L113.5 364.5L113.7 363.3L114.0 359.0L114.2 361.3L114.5 361.4L114.7 359.1L115.0 359.3L115.2 364.0L115.5 360.4L115.7 360.9L116.0 358.5L116.2 359.4L116.5 355.5L116.7 358.7L117.0 362.1L117.2 364.4L117.5 362.2L117.7 361.0L118.0 360.1L118.2 359.2L118.5 360.7L118.7 363.3L119.0 360.0L119.2 363.6L119.5 361.6L119.7 360.5L120.0 361.4L120.2 361.0L120.5 362.0L120.7 365.7L121.0 363.3L121.2 365.0L121.5 368.1L121.7 369.1L122.0 365.7L122.2 368.3L122.5 366.5L122.7 366.3L123.0 367.8L123.2 364.1L123.5 365.9L123.7 368.8L124.0 370.4L124.2 368.8L124.5 369.3L124.7 370.8L125.0 372.1L125.2 372.6L125.5 374.7L125.7 371.0L126.0 371.6L126.2 373.2L126.5 372.5L126.7 372.8L127.0 376.3L127.2 373.2L127.5 371.9L127.7 374.1L128.0 376.7L128.2 374.2L128.4 377.5L128.7 374.4L128.9 374.5L129.2 375.2L129.4 376.5L129.7 379.5L129.9 375.0L130.2 381.8L130.4 376.6L130.7 376.9L130.9 378.8L131.2 380.0L131.4 380.0L131.7 377.2L131.9 380.7L132.2 378.0L132.4 385.6L132.7 381.0L132.9 382.4L133.2 379.9L133.4 380.9L133.7 378.2L133.9 382.4L134.2 380.5L134.4 382.2L134.7 380.8L134.9 382.4L135.2 385.4L135.4 380.0L135.7 378.3L135.9 382.7L136.2 380.6L136.4 382.5L136.7 384.7L136.9 381.1L137.2 383.1L137.4 380.1L137.7 384.7L137.9 385.1L138.2 382.3L138.4 382.3L138.7 380.9L138.9 384.2L139.2 385.8L139.4 379.6L139.7 384.6L139.9 380.5L140.2 381.4L140.4 380.4L140.7 389.0L140.9 384.1L141.2 383.7L141.4 383.0L141.7 386.4L141.9 380.3L142.2 384.4L142.4 389.3L142.7 384.4L142.9 384.7L143.2 386.3L143.4 383.7L143.7 385.4L143.9 387.7L144.2 386.5L144.4 386.5L144.7 385.2L144.9 386.0L145.2 385.2L145.4 387.8L145.7 386.9L145.9 385.2L146.2 380.3L146.4 386.8L146.7 387.7L146.9 383.4L147.2 381.9L147.4 384.5L147.7 387.5L147.9 384.2L148.2 385.4L148.4 385.8L148.7 388.8L148.9 386.1L149.2 384.8L149.4 384.9L149.7 388.5L149.9 386.9L150.2 385.4L150.4 384.2L150.7 384.6L150.9 385.9L151.2 384.2L151.4 387.3L151.7 385.3L151.9 385.3L152.2 386.6L152.4 386.2L152.7 384.1L152.9 385.4L153.2 390.0L153.4 382.9L153.7 383.5L153.9 386.1L154.2 384.4L154.4 383.0L154.7 381.9L154.9 385.2L155.2 386.6L155.4 388.7L155.7 384.9L155.9 385.7L156.2 381.7L156.4 384.2L156.7 382.7L156.9 383.5L157.2 384.1L157.4 384.5L157.7 380.0L157.9 384.4L158.2 381.0L158.4 379.7L158.7 381.6L158.9 379.2L159.2 381.7L159.4 382.0L159.7 380.4L159.9 381.4L160.2 380.0L160.4 380.2L160.7 377.4L160.9 380.4L161.2 377.5L161.4 377.8L161.7 378.5L161.9 379.4L162.2 375.4L162.4 374.3L162.7 376.7L162.9 379.3L163.2 379.1L163.4 379.2L163.7 380.2L163.9 377.5L164.2 376.4L164.4 375.6L164.7 375.7L164.9 376.5L165.2 377.6L165.4 376.9L165.7 376.3L165.9 375.9L166.2 378.4L166.4 377.4L166.7 376.5L166.9 375.8L167.2 373.5L167.4 373.4L167.7 376.0L167.9 374.4L168.2 373.5L168.4 373.2L168.7 379.1L168.9 372.2L169.2 372.2L169.4 374.5L169.7 370.8L169.9 372.4L170.2 376.1L170.4 375.4L170.7 373.9L170.9 372.0L171.2 371.9L171.4 374.8L171.7 371.8L171.9 369.2L172.2 370.9L172.4 373.2L172.7 371.7L172.9 372.2L173.2 366.1L173.4 371.8L173.7 374.7L173.9 373.5L174.2 368.4L174.4 365.9L174.7 369.8L174.9 367.5L175.2 368.9L175.4 366.5L175.7 369.8L175.9 370.3L176.2 363.4L176.4 367.5L176.7 365.5L176.9 364.2L177.2 365.3L177.4 365.6L177.7 368.1L177.9 363.8L178.2 368.8L178.4 369.7L178.7 366.9L178.9 366.8L179.2 365.8L179.4 363.4L179.7 366.8L179.9 366.8L180.2 366.3L180.4 368.7L180.7 365.5L180.9 365.1L181.2 366.6L181.4 359.9L181.7 359.2L181.9 361.5L182.2 362.2L182.4 364.9L182.7 361.9L182.9 365.8L183.2 365.7L183.4 363.9L183.7 362.1L183.9 363.4L184.2 363.2L184.4 358.8L184.7 361.2L184.9 361.9L185.2 361.5L185.4 364.9L185.7 364.3L185.9 360.4L186.2 361.3L186.4 359.3L186.7 361.9L186.9 359.2L187.2 362.8L187.4 360.8L187.7 361.6L187.9 359.9L188.2 357.1L188.4 363.5L188.7 360.7L188.9 362.8L189.2 359.8L189.4 359.2L189.7 361.3L189.9 359.3L190.2 360.1L190.4 354.9L190.7 360.6L190.9 357.8L191.2 357.4L191.4 357.4L191.7 358.5L191.9 360.6L192.2 353.3L192.4 358.6L192.7 357.2L192.9 360.0L193.2 356.8L193.4 357.5L193.7 355.8L193.9 358.6L194.2 358.7L194.4 355.8L194.7 357.8L194.9 355.2L195.2 357.0L195.4 356.9L195.7 354.1L195.9 358.3L196.2 353.2L196.4 353.4L196.7 353.4L196.9 354.1L197.2 355.5L197.4 355.8L197.7 355.3L197.9 356.7L198.2 355.1L198.4 353.6L198.7 352.7L198.9 357.8L199.2 349.6L199.4 354.8L199.7 357.8L199.9 355.6L200.2 352.8L200.4 354.8L200.7 356.7L200.9 357.0L201.2 352.4L201.4 355.1L201.7 354.6L201.9 356.1L202.2 355.9L202.4 352.9L202.7 352.0L202.9 355.8L203.2 358.5L203.4 356.3L203.7 354.5L203.9 358.0L204.2 351.3L204.4 356.4L204.7 354.0L204.9 354.8L205.2 355.1L205.4 357.4L205.7 352.3L205.9 353.1L206.2 351.5L206.4 355.6L206.7 353.7L206.9 355.2L207.2 351.7L207.4 352.8L207.7 355.4L207.9 353.7L208.2 354.6L208.4 353.8L208.7 354.4L208.9 352.0L209.2 355.1L209.4 353.7L209.7 356.4L209.9 350.6L210.2 351.0L210.4 350.1L210.7 352.0L210.9 357.2L211.2 356.5L211.4 353.5L211.7 353.5L211.9 355.2L212.2 353.6L212.4 355.1L212.7 354.4L212.9 348.9L213.2 352.7L213.4 356.8L213.7 353.2L213.9 353.3L214.2 352.5L214.4 353.3L214.7 356.9L214.9 354.1L215.2 352.9L215.4 349.9L215.7 354.4L215.9 351.6L216.2 352.2L216.4 358.1L216.7 357.3L216.9 351.9L217.2 357.8L217.4 357.0L217.7 355.7L217.9 358.3L218.2 353.2L218.4 353.7L218.7 353.9L218.9 355.2L219.2 358.4L219.4 352.9L219.7 351.9L219.9 353.3L220.2 355.7L220.4 353.8L220.7 356.1L220.9 352.4L221.2 351.3L221.4 353.3L221.7 354.1L221.9 352.1L222.2 354.6L222.4 357.6L222.7 353.5L222.9 355.8L223.2 358.4L223.4 354.5L223.7 354.1L223.9 352.2L224.2 355.3L224.4 356.9L224.7 355.5L224.9 356.0L225.2 357.7L225.4 357.0L225.7 353.9L225.9 357.7L226.2 357.5L226.4 357.6L226.7 357.1L226.9 356.4L227.2 357.3L227.4 355.4L227.7 357.4L227.9 357.0L228.2 360.5L228.4 356.6L228.7 357.8L228.9 357.4L229.2 357.0L229.4 360.2L229.7 356.3L229.9 358.4L230.2 356.5L230.4 359.5L230.7 356.4L230.9 357.9L231.2 356.7L231.4 358.0L231.7 357.1L231.9 356.1L232.2 358.0L232.4 355.7L232.7 356.5L232.9 358.1L233.2 357.6L233.4 357.4L233.7 356.9L233.9 355.3L234.2 356.3L234.4 357.0" stroke="#111" stroke-width="1.7" fill="none" stroke-linejoin="round"/><line x1="116" y1="352.2" x2="157.2" y2="352.2" stroke="#111" stroke-width="1.8"/><line x1="116.2" y1="392.5" x2="116.2" y2="395.5" stroke="#bbb" stroke-width="1"/><line x1="161.0" y1="392.5" x2="161.0" y2="395.5" stroke="#bbb" stroke-width="1"/><line x1="88.1" y1="350.8" x2="88.1" y2="397" stroke="#666" stroke-width="1.1"/><line x1="145.3" y1="352.2" x2="145.3" y2="397" stroke="#666" stroke-width="1.1"/><path d="M87.5 396.7L83.7 402.3L91.3 402.3Z" fill="#111"/><path d="M145.5 396.7L141.7 402.6L149.3 402.6Z" fill="#111"/><line x1="178.8" y1="421.6" x2="178.8" y2="454.3" stroke="#111" stroke-width="2"/><line x1="143.1" y1="453.5" x2="174.2" y2="453.5" stroke="#111" stroke-width="2"/><text x="183.3" y="445.8" font-size="17.50" text-anchor="start" fill="#1a1a1a" >50 pA</text><text x="143.2" y="469.8" font-size="17.50" text-anchor="start" fill="#1a1a1a" >60 s</text><text x="0" y="0" font-size="23" font-style="italic" fill="#111" transform="translate(254.0 39.2) scale(0.960 1)">B</text><path d="M257 133.5V128.6H512.3" stroke="#111" stroke-width="1.6" fill="none"/><line x1="285.9" y1="128.6" x2="285.9" y2="134.6" stroke="#111" stroke-width="1.5"/><line x1="314.6" y1="128.6" x2="314.6" y2="132.8" stroke="#111" stroke-width="1.5"/><line x1="341.9" y1="128.6" x2="341.9" y2="134.6" stroke="#111" stroke-width="1.5"/><line x1="371.6" y1="128.6" x2="371.6" y2="132.8" stroke="#111" stroke-width="1.5"/><line x1="398.8" y1="128.6" x2="398.8" y2="134.6" stroke="#111" stroke-width="1.5"/><line x1="427.5" y1="128.6" x2="427.5" y2="132.8" stroke="#111" stroke-width="1.5"/><line x1="456.0" y1="128.6" x2="456.0" y2="134.6" stroke="#111" stroke-width="1.5"/><line x1="485.6" y1="128.6" x2="485.6" y2="132.8" stroke="#111" stroke-width="1.5"/><text x="286.2" y="122.0" font-size="17.50" text-anchor="middle" fill="#1a1a1a" >-80</text><text x="342.2" y="122.0" font-size="17.50" text-anchor="middle" fill="#1a1a1a" >-60</text><text x="397.2" y="122.0" font-size="17.50" text-anchor="middle" fill="#1a1a1a" >-40</text><text x="456.3" y="122.0" font-size="17.50" text-anchor="middle" fill="#1a1a1a" >-20</text><path d="M504.2 30.7H512.2V276.4H504" stroke="#111" stroke-width="1.6" fill="none"/><line x1="504.2" y1="79.9" x2="512.2" y2="79.9" stroke="#111" stroke-width="1.5"/><line x1="504.2" y1="176.8" x2="512.2" y2="176.8" stroke="#111" stroke-width="1.5"/><line x1="504.2" y1="226.9" x2="512.2" y2="226.9" stroke="#111" stroke-width="1.5"/><text x="517.8" y="38.7" font-size="17.50" text-anchor="start" fill="#1a1a1a" >400 pA</text><text x="518.4" y="86.5" font-size="17.50" text-anchor="start" fill="#1a1a1a" >200</text><text x="518.8" y="135.6" font-size="17.50" text-anchor="start" fill="#1a1a1a" >0</text><text x="517.8" y="182.8" font-size="17.50" text-anchor="start" fill="#1a1a1a" >-200</text><text x="518.6" y="232.2" font-size="17.50" text-anchor="start" fill="#1a1a1a" >-400</text><text x="518.6" y="281.4" font-size="17.50" text-anchor="start" fill="#1a1a1a" >-600</text><path d="M284.8 275.4L285.2 276.5L285.5 275.1L285.9 271.5L286.2 269.9L286.6 270.2L286.9 266.7L287.3 267.0L287.6 267.5L288.0 265.1L288.3 264.2L288.7 261.6L289.0 261.2L289.4 260.6L289.7 258.3L290.1 257.3L290.4 256.8L290.8 255.2L291.1 257.0L291.5 255.4L291.8 254.5L292.2 252.6L292.5 250.6L292.9 249.5L293.2 248.8L293.6 250.4L293.9 251.0L294.3 249.4L294.6 247.9L295.0 247.7L295.3 246.0L295.7 244.8L296.0 241.9L296.4 245.0L296.7 244.2L297.1 244.0L297.4 245.9L297.8 244.9L298.1 243.3L298.5 242.0L298.8 241.8L299.2 243.4L299.5 241.5L299.9 241.9L300.2 243.1L300.6 241.5L300.9 238.9L301.3 239.7L301.6 238.9L302.0 237.9L302.3 238.2L302.7 238.4L303.0 236.6L303.4 238.3L303.7 237.5L304.1 234.8L304.4 235.4L304.8 234.2L305.1 232.8L305.5 232.6L305.8 232.3L306.2 232.3L306.5 232.5L306.9 234.4L307.2 233.4L307.6 233.1L307.9 232.5L308.3 231.1L308.6 231.1L309.0 230.7L309.3 228.7L309.7 230.5L310.0 230.1L310.4 229.9L310.7 227.9L311.1 228.4L311.4 227.9L311.8 226.4L312.1 225.9L312.5 226.2L312.8 225.4L313.2 226.3L313.5 225.4L313.9 224.7L314.2 224.0L314.6 224.0L314.9 223.7L315.3 223.4L315.6 224.2L316.0 221.4L316.3 220.0L316.7 220.7L317.0 222.4L317.4 221.5L317.7 220.0L318.1 219.2L318.4 218.9L318.8 219.4L319.1 218.8L319.5 219.4L319.8 217.6L320.2 216.0L320.5 216.6L320.9 214.9L321.2 215.4L321.6 216.4L321.9 214.3L322.3 214.1L322.6 214.0L323.0 214.4L323.3 214.9L323.7 213.8L324.0 212.9L324.4 212.0L324.7 212.3L325.1 212.3L325.4 211.8L325.8 210.9L326.1 211.5L326.5 211.4L326.8 210.5L327.2 208.6L327.5 209.4L327.9 209.3L328.2 208.1L328.6 208.8L328.9 207.5L329.3 206.9L329.6 206.3L330.0 206.3L330.3 206.5L330.7 206.2L331.0 205.5L331.4 205.1L331.7 205.3L332.1 204.5L332.4 204.2L332.8 204.6L333.1 204.1L333.5 202.8L333.8 202.8L334.2 202.4L334.5 201.6L334.9 202.1L335.2 202.2L335.6 201.3L335.9 201.3L336.3 201.0L336.6 200.1L337.0 200.4L337.3 201.0L337.7 201.1L338.0 200.4L338.4 199.5L338.7 199.0L339.1 199.1L339.4 199.0L339.8 198.6L340.1 198.5L340.5 198.1L340.8 198.2L341.2 197.3L341.5 197.3L341.9 197.2L342.2 196.5L342.6 196.5L342.9 196.6L343.3 196.3L343.6 196.5L344.0 196.3L344.3 195.5L344.7 195.6L345.0 195.4L345.4 194.8L345.7 194.2L346.1 194.4L346.4 193.8L346.8 193.6L347.1 193.9L347.5 193.5L347.8 193.4L348.2 192.8L348.5 192.5L348.9 193.0L349.2 192.8L349.6 192.6L349.9 192.3L350.3 191.2L350.6 190.9L351.0 191.0L351.3 191.2L351.7 191.0L352.0 190.4L352.4 190.1L352.7 189.8L353.1 189.6L353.4 189.7L353.8 190.0L354.1 189.6L354.5 189.0L354.8 189.1L355.2 188.3L355.5 187.9L355.9 187.7L356.2 187.8L356.6 187.9L356.9 187.9L357.3 187.3L357.6 186.7L358.0 186.9L358.3 186.9L358.7 186.1L359.0 185.6L359.4 185.9L359.7 185.9L360.1 185.6L360.4 185.2L360.8 184.7L361.1 184.6L361.5 184.3L361.8 184.0L362.2 183.7L362.5 183.1L362.9 182.9L363.2 182.1L363.6 181.7L363.9 181.9L364.3 181.6L364.6 181.3L365.0 180.4L365.3 180.1L365.7 179.8L366.0 179.5L366.4 179.6L366.7 179.1L367.1 178.5L367.4 178.7L367.8 177.9L368.1 177.6L368.5 177.0L368.8 176.1L369.2 176.3L369.5 176.1L369.9 175.8L370.2 175.2L370.6 174.5L370.9 174.6L371.3 174.6L371.6 173.7L372.0 173.2L372.3 172.9L372.7 173.0L373.0 172.3L373.4 172.0L373.7 172.0L374.1 171.5L374.4 170.9L374.8 169.9L375.1 169.8L375.5 169.3L375.8 168.8L376.2 168.8L376.5 168.4L376.9 168.4L377.2 167.8L377.6 167.2L377.9 166.9L378.3 166.9L378.6 166.3L379.0 166.5L379.3 165.5L379.7 165.6L380.0 165.1L380.4 164.7L380.7 164.1L381.1 163.1L381.4 162.9L381.8 162.7L382.1 162.3L382.5 162.3L382.8 161.5L383.2 160.8L383.5 160.7L383.9 160.9L384.2 160.4L384.6 159.9L384.9 159.5L385.3 159.4L385.6 159.0L386.0 158.8L386.3 158.2L386.7 158.0L387.0 157.9L387.4 157.8L387.7 157.5L388.1 156.7L388.4 156.2L388.8 156.2L389.1 155.6L389.5 155.3L389.8 154.8L390.2 154.3L390.5 154.1L390.9 153.8L391.2 153.5L391.6 153.1L391.9 153.1L392.3 152.3L392.6 152.4L393.0 151.9L393.3 151.1L393.7 151.1L394.0 151.1L394.4 150.3L394.7 149.7L395.1 149.6L395.4 148.7L395.8 148.4L396.1 148.2L396.5 147.9L396.8 147.7L397.2 147.0L397.5 147.2L397.9 147.0L398.2 146.5L398.6 146.0L398.9 145.4L399.3 145.1L399.6 144.7L400.0 144.7L400.3 144.8L400.7 143.7L401.0 143.7L401.4 143.4L401.7 142.9L402.1 142.8L402.4 142.4L402.8 142.2L403.1 141.6L403.5 141.1L403.8 140.7L404.2 140.3L404.5 140.5L404.9 140.9L405.2 140.3L405.6 139.1L405.9 138.5L406.3 138.4L406.6 138.1L407.0 137.3L407.3 137.3L407.7 136.7L408.0 136.8L408.4 136.8L408.7 136.0L409.1 135.4L409.4 135.2L409.8 134.4L410.1 134.6L410.5 134.6L410.8 134.0L411.2 133.7L411.5 133.1L411.9 132.7L412.2 132.2L412.6 131.7L412.9 132.1L413.3 131.9L413.6 131.3L414.0 130.7L414.3 130.1L414.7 130.6L415.0 129.5L415.4 129.0L415.7 128.8L416.1 128.9L416.4 128.6L416.8 127.6L417.1 127.7L417.5 127.6L417.8 127.1L418.2 126.7L418.5 126.1L418.9 125.9L419.2 125.6L419.6 125.5L419.9 124.5L420.3 123.9L420.6 123.5L421.0 123.3L421.3 122.8L421.7 122.6L422.0 122.2L422.4 122.3L422.7 122.1L423.1 121.5L423.4 120.9L423.8 120.7L424.1 120.4L424.5 119.6L424.8 119.5L425.2 119.7L425.5 119.4L425.9 119.2L426.2 118.0L426.6 117.8L426.9 117.8L427.3 117.1L427.6 116.7L428.0 116.3L428.3 115.8L428.7 115.9L429.0 115.9L429.4 115.3L429.7 114.4L430.1 114.2L430.4 114.5L430.8 113.5L431.1 113.2L431.5 112.8L431.8 112.2L432.2 112.3L432.5 112.3L432.9 111.7L433.2 111.2L433.6 110.9L433.9 110.7L434.3 110.1L434.6 109.8L435.0 109.7L435.3 109.2L435.7 109.3L436.0 108.8L436.4 108.1L436.7 107.6L437.1 106.5L437.4 106.2L437.8 105.7L438.1 105.2L438.5 105.0L438.8 104.3L439.2 103.9L439.5 103.3L439.9 102.8L440.2 102.3L440.6 101.8L440.9 100.9L441.3 100.7L441.6 100.5L442.0 99.8L442.3 98.9L442.7 98.2L443.0 97.6L443.4 97.1L443.7 96.9L444.1 96.8L444.4 95.7L444.8 95.1L445.1 95.2L445.5 94.2L445.8 93.6L446.2 93.5L446.5 93.0L446.9 92.4L447.2 91.6L447.6 91.5L447.9 90.9L448.3 90.6L448.6 90.2L449.0 89.9L449.3 88.9L449.7 88.5L450.0 88.0L450.4 87.6L450.7 87.0L451.1 86.5L451.4 86.6L451.8 85.7L452.1 84.7L452.5 84.7L452.8 84.2L453.2 83.6L453.5 83.5L453.9 83.3L454.2 82.3L454.6 81.7L454.9 81.5L455.3 81.1L455.6 80.4L456.0 79.8L456.3 79.3L456.7 78.6L457.0 78.4L457.4 77.7L457.7 77.7L458.1 77.0L458.4 75.7L458.8 75.2L459.1 75.5L459.5 75.1L459.8 74.3L460.2 73.5L460.5 73.5L460.9 72.9L461.2 72.6L461.6 71.7L461.9 70.8L462.3 70.9L462.6 70.2L463.0 69.3L463.3 69.4L463.7 69.2L464.0 68.4L464.4 67.9L464.7 67.0L465.1 67.2L465.4 66.8L465.8 65.8L466.1 65.4L466.5 64.6L466.8 64.6L467.2 64.2L467.5 63.4L467.9 62.7L468.2 62.2L468.6 61.5L468.9 61.2L469.3 61.0L469.6 60.6L470.0 59.9L470.3 59.4L470.7 58.6L471.0 58.9L471.4 58.6L471.7 57.8L472.1 57.4L472.4 56.9L472.8 56.2L473.1 56.1L473.5 55.6L473.8 54.6L474.2 53.5L474.5 53.2L474.9 51.9L475.2 51.0L475.6 50.5" stroke="#111" stroke-width="2.3" fill="none" stroke-linejoin="round"/><path d="M284.8 273.1L285.2 274.9L285.5 276.5L285.9 275.0L286.2 272.8L286.6 270.8L286.9 269.4L287.3 270.3L287.6 269.3L288.0 268.9L288.3 268.0L288.7 262.2L289.0 265.0L289.4 265.7L289.7 264.9L290.1 262.7L290.4 262.1L290.8 261.5L291.1 261.1L291.5 261.6L291.8 260.5L292.2 257.2L292.5 259.1L292.9 259.8L293.2 258.4L293.6 257.1L293.9 257.7L294.3 256.3L294.6 256.4L295.0 254.8L295.3 256.4L295.7 256.7L296.0 254.7L296.4 254.8L296.7 256.0L297.1 252.8L297.4 250.2L297.8 251.6L298.1 252.8L298.5 250.5L298.8 250.3L299.2 249.8L299.5 251.2L299.9 249.8L300.2 247.8L300.6 248.3L300.9 248.1L301.3 247.0L301.6 248.4L302.0 246.2L302.3 246.7L302.7 246.4L303.0 245.2L303.4 242.6L303.7 244.6L304.1 243.2L304.4 243.6L304.8 243.0L305.1 243.3L305.5 241.4L305.8 241.8L306.2 241.7L306.5 241.4L306.9 240.2L307.2 241.9L307.6 240.7L307.9 238.4L308.3 239.7L308.6 239.2L309.0 240.7L309.3 239.9L309.7 238.4L310.0 237.5L310.4 238.5L310.7 237.1L311.1 236.1L311.4 234.0L311.8 233.7L312.1 236.2L312.5 235.1L312.8 232.9L313.2 233.4L313.5 232.9L313.9 234.4L314.2 232.8L314.6 230.9L314.9 232.5L315.3 231.6L315.6 230.1L316.0 232.0L316.3 232.0L316.7 230.0L317.0 228.2L317.4 227.5L317.7 229.1L318.1 228.1L318.4 227.7L318.8 228.8L319.1 228.8L319.5 226.5L319.8 226.8L320.2 226.7L320.5 225.8L320.9 225.6L321.2 225.7L321.6 225.4L321.9 224.7L322.3 222.5L322.6 223.8L323.0 223.5L323.3 223.7L323.7 223.0L324.0 222.2L324.4 221.8L324.7 222.2L325.1 221.8L325.4 221.1L325.8 220.1L326.1 220.1L326.5 218.3L326.8 219.3L327.2 219.1L327.5 218.6L327.9 218.4L328.2 217.9L328.6 218.0L328.9 218.2L329.3 217.9L329.6 217.9L330.0 217.1L330.3 216.6L330.7 216.5L331.0 216.2L331.4 217.7L331.7 217.0L332.1 215.3L332.4 214.7L332.8 214.8L333.1 215.8L333.5 214.6L333.8 214.4L334.2 215.1L334.5 214.6L334.9 214.0L335.2 213.7L335.6 213.7L335.9 213.3L336.3 214.2L336.6 212.7L337.0 212.7L337.3 213.5L337.7 212.7L338.0 212.2L338.4 212.4L338.7 211.3L339.1 211.8L339.4 211.2L339.8 210.5L340.1 210.9L340.5 210.2L340.8 210.1L341.2 209.4L341.5 208.9L341.9 208.3L342.2 208.1L342.6 207.9L342.9 207.9L343.3 207.7L343.6 206.8L344.0 206.6L344.3 206.5L344.7 206.2L345.0 206.1L345.4 205.6L345.7 205.1L346.1 204.6L346.4 204.3L346.8 204.2L347.1 203.8L347.5 202.6L347.8 203.1L348.2 203.6L348.5 202.9L348.9 202.4L349.2 202.5L349.6 202.0L349.9 201.5L350.3 201.7L350.6 201.4L351.0 200.6L351.3 201.0L351.7 200.6L352.0 200.4L352.4 200.0L352.7 199.7L353.1 199.2L353.4 199.5L353.8 199.2L354.1 198.6L354.5 198.6L354.8 198.8L355.2 198.2L355.5 198.3L355.9 197.9L356.2 197.8L356.6 197.2L356.9 197.0L357.3 197.0L357.6 196.7L358.0 196.5L358.3 196.3L358.7 196.2L359.0 196.1L359.4 195.9L359.7 195.7L360.1 195.5L360.4 195.2L360.8 195.1L361.1 194.7L361.5 194.4L361.8 193.9L362.2 193.9L362.5 194.1L362.9 193.2L363.2 193.0L363.6 192.8L363.9 192.9L364.3 192.2L364.6 191.8L365.0 191.6L365.3 191.1L365.7 190.7L366.0 190.9L366.4 190.7L366.7 190.6L367.1 190.3L367.4 189.3L367.8 188.6L368.1 188.2L368.5 188.0L368.8 187.4L369.2 186.9L369.5 187.3L369.9 186.4L370.2 186.3L370.6 185.9L370.9 185.4L371.3 184.8L371.6 184.3L372.0 184.0L372.3 184.1L372.7 183.9L373.0 183.2L373.4 182.6L373.7 182.6L374.1 182.0L374.4 181.7L374.8 181.3L375.1 180.8L375.5 180.5L375.8 180.3L376.2 179.6L376.5 179.3L376.9 178.9L377.2 178.5L377.6 178.3L377.9 178.0L378.3 177.3L378.6 177.0L379.0 176.0L379.3 175.6L379.7 175.6L380.0 175.3L380.4 175.1L380.7 174.4L381.1 174.2L381.4 173.5L381.8 172.8L382.1 173.3L382.5 172.4L382.8 171.7L383.2 171.9L383.5 171.6L383.9 171.5L384.2 170.5L384.6 170.5L384.9 170.4L385.3 169.4L385.6 169.7L386.0 169.1L386.3 168.4L386.7 168.3L387.0 168.0L387.4 167.6L387.7 167.1L388.1 166.7L388.4 166.0L388.8 165.9L389.1 165.3L389.5 164.6L389.8 164.5L390.2 164.2L390.5 163.6L390.9 163.3L391.2 163.0L391.6 162.1L391.9 162.0L392.3 161.8L392.6 161.9L393.0 161.6L393.3 161.0L393.7 160.3L394.0 160.1L394.4 159.7L394.7 159.2L395.1 159.2L395.4 158.5L395.8 158.4L396.1 157.7L396.5 157.0L396.8 156.4L397.2 156.3L397.5 156.0L397.9 155.4L398.2 155.2L398.6 155.1L398.9 154.2L399.3 154.0L399.6 153.3L400.0 153.1L400.3 152.5L400.7 151.9L401.0 151.5L401.4 151.6L401.7 151.2L402.1 151.1L402.4 150.9L402.8 150.3L403.1 150.0L403.5 149.4L403.8 149.0L404.2 148.6L404.5 148.2L404.9 147.3L405.2 147.2L405.6 146.6L405.9 146.1L406.3 145.9L406.6 145.2L407.0 145.6L407.3 144.7L407.7 144.7L408.0 144.2L408.4 143.5L408.7 143.1L409.1 142.6L409.4 141.9L409.8 141.5L410.1 141.5L410.5 141.3L410.8 140.8L411.2 140.8L411.5 140.2L411.9 139.8L412.2 140.1L412.6 139.5L412.9 139.0L413.3 138.5L413.6 137.9L414.0 137.1L414.3 137.0L414.7 136.2L415.0 135.5L415.4 136.0L415.7 135.7L416.1 135.1L416.4 134.9L416.8 134.1L417.1 134.0L417.5 133.5L417.8 132.7L418.2 132.1L418.5 132.2L418.9 131.8L419.2 131.9L419.6 131.6L419.9 131.2L420.3 130.6L420.6 130.1L421.0 129.5L421.3 128.9L421.7 128.2L422.0 127.9L422.4 127.9L422.7 127.6L423.1 127.4L423.4 127.0L423.8 125.8L424.1 125.1L424.5 125.1L424.8 124.4L425.2 124.6L425.5 124.1L425.9 123.2L426.2 122.5L426.6 122.0L426.9 121.7L427.3 121.2L427.6 120.9L428.0 120.7L428.3 119.8L428.7 119.0L429.0 118.9L429.4 118.4L429.7 118.0L430.1 117.3L430.4 117.1L430.8 116.5L431.1 116.1L431.5 115.3L431.8 115.5L432.2 115.2L432.5 114.4L432.9 114.1L433.2 113.7L433.6 113.2L433.9 113.1L434.3 112.1L434.6 111.8L435.0 111.4L435.3 110.8L435.7 110.2L436.0 110.1L436.4 109.0L436.7 108.5L437.1 108.5L437.4 108.1L437.8 107.1L438.1 106.8L438.5 106.6L438.8 106.0L439.2 105.4L439.5 104.4L439.9 104.0L440.2 103.5L440.6 102.6L440.9 102.2L441.3 102.0L441.6 101.5L442.0 101.0L442.3 100.6L442.7 100.1L443.0 98.9L443.4 98.1L443.7 97.6L444.1 97.2L444.4 96.7L444.8 96.3L445.1 95.8L445.5 95.7L445.8 94.8L446.2 94.5L446.5 93.9L446.9 93.6L447.2 93.4L447.6 92.7L447.9 91.5L448.3 91.2L448.6 91.3L449.0 91.3L449.3 90.5L449.7 89.3L450.0 88.8L450.4 88.4L450.7 87.7L451.1 87.1L451.4 87.2L451.8 86.9L452.1 86.3L452.5 85.4L452.8 85.4L453.2 85.0L453.5 83.8L453.9 83.4L454.2 83.3L454.6 82.8L454.9 82.3L455.3 81.6L455.6 81.3L456.0 80.7L456.3 79.8L456.7 79.3L457.0 79.5L457.4 78.9L457.7 78.1L458.1 77.7L458.4 77.6L458.8 76.9L459.1 76.3L459.5 75.8L459.8 74.8L460.2 74.3L460.5 74.2L460.9 73.7L461.2 73.2L461.6 72.9L461.9 72.5L462.3 71.8L462.6 71.3L463.0 71.0L463.3 70.5L463.7 70.1L464.0 68.9L464.4 68.9L464.7 68.4L465.1 67.7L465.4 67.5L465.8 67.1L466.1 66.8L466.5 65.5L466.8 65.4L467.2 65.0L467.5 64.4L467.9 64.0L468.2 63.7L468.6 63.0L468.9 62.5L469.3 61.7L469.6 60.8L470.0 61.0L470.3 60.7L470.7 60.3L471.0 59.5L471.4 59.4L471.7 58.6L472.1 57.9L472.4 57.7L472.8 56.7L473.1 56.3L473.5 55.8L473.8 55.3L474.2 54.2L474.5 53.6L474.9 53.4L475.2 52.5L475.6 51.3" stroke="#111" stroke-width="2.3" fill="none" stroke-linejoin="round"/><text x="293.9" y="195.3" font-size="12.50" text-anchor="start" fill="#2a2a2a" >X</text><line x1="293.6" y1="183.7" x2="301.2" y2="183.7" stroke="#2a2a2a" stroke-width="0.9"/><text x="302.9" y="199.3" font-size="10.50" text-anchor="start" fill="#2a2a2a" font-style="italic" >(1,2,3)</text><text x="357.9" y="229.0" font-size="12.50" text-anchor="start" fill="#2a2a2a" >X</text><line x1="357.6" y1="217.4" x2="365.2" y2="217.4" stroke="#2a2a2a" stroke-width="0.9"/><text x="366.9" y="233.0" font-size="10.50" text-anchor="start" fill="#2a2a2a" font-style="italic" >(4,5,6)</text><text x="0" y="0" font-size="23" font-style="italic" fill="#111" transform="translate(253.2 329.0) scale(0.910 1)">C</text><path d="M258.5 350V345.5H513" stroke="#111" stroke-width="1.6" fill="none"/><line x1="286.6" y1="345.5" x2="286.6" y2="352.8" stroke="#111" stroke-width="1.5"/><line x1="315.6" y1="345.5" x2="315.6" y2="350.5" stroke="#111" stroke-width="1.5"/><line x1="342.9" y1="345.5" x2="342.9" y2="352.8" stroke="#111" stroke-width="1.5"/><line x1="372.9" y1="345.5" x2="372.9" y2="350.5" stroke="#111" stroke-width="1.5"/><line x1="400.0" y1="345.5" x2="400.0" y2="352.8" stroke="#111" stroke-width="1.5"/><line x1="428.1" y1="345.5" x2="428.1" y2="350.5" stroke="#111" stroke-width="1.5"/><line x1="457.2" y1="345.5" x2="457.2" y2="352.8" stroke="#111" stroke-width="1.5"/><line x1="486.5" y1="345.5" x2="486.5" y2="350.5" stroke="#111" stroke-width="1.5"/><text x="286.9" y="338.8" font-size="17.50" text-anchor="middle" fill="#1a1a1a" >-80</text><text x="343.2" y="338.8" font-size="17.50" text-anchor="middle" fill="#1a1a1a" >-60</text><text x="398.5" y="338.8" font-size="17.50" text-anchor="middle" fill="#1a1a1a" >-40</text><path d="M505.4 307.4H513V461.4H505.6" stroke="#111" stroke-width="1.6" fill="none"/><line x1="505.4" y1="384.6" x2="513" y2="384.6" stroke="#111" stroke-width="1.5"/><line x1="505.4" y1="422.7" x2="513" y2="422.7" stroke="#111" stroke-width="1.5"/><text x="519.8" y="313.0" font-size="17.50" text-anchor="start" fill="#1a1a1a" >10 pA</text><text x="519.4" y="352.3" font-size="17.50" text-anchor="start" fill="#1a1a1a" >0</text><text x="518.2" y="390.5" font-size="17.50" text-anchor="start" fill="#1a1a1a" >-10</text><text x="518.2" y="428.6" font-size="17.50" text-anchor="start" fill="#1a1a1a" >-20</text><text x="518.2" y="466.9" font-size="17.50" text-anchor="start" fill="#1a1a1a" >-30</text><path d="M289.1 380.6L289.2 383.8L289.4 387.9L289.6 391.6L289.8 395.3L290.2 396.8L290.6 400.0L291.2 400.4L291.8 400.5L292.4 396.6L293.0 393.3L293.6 389.6L294.1 385.8L294.7 382.5L295.2 383.9L295.8 386.5L296.3 389.6L296.9 390.7L297.5 393.2L298.1 393.9L298.6 396.1L299.2 399.1L299.8 399.1L300.4 399.4L300.8 402.3L301.2 405.9L301.6 409.6L302.1 404.9L302.6 400.7L303.1 395.8L303.6 393.2L304.1 388.7L304.7 400.6L305.3 412.4L305.9 405.0L306.4 398.9L307.0 393.6L307.6 402.9L308.2 411.2L308.8 405.0L309.4 398.3L309.8 403.7L310.2 407.9L310.6 410.8L311.1 409.8L311.6 409.0L312.1 407.9L312.6 407.3L313.1 406.4L313.6 407.0L314.1 408.6L314.6 409.8L315.0 409.1L315.4 408.3L315.7 414.1L316.0 418.7L316.4 419.6L316.8 422.3L317.3 423.6L317.7 425.9L318.2 426.7L318.7 424.9L319.2 423.6L319.8 423.4L320.3 421.2L320.8 419.0L321.3 418.2L321.9 419.7L322.5 422.1L323.1 423.6L323.7 424.9L324.3 426.3L324.9 426.9L325.4 427.7L325.9 428.7L326.4 428.3L326.9 427.6L327.4 426.8L328.0 427.0L328.5 427.2L328.9 431.3L329.3 435.9L329.9 438.8L330.4 438.5L331.0 439.1L331.5 439.4L332.1 441.1L332.6 442.3L333.1 444.6L333.7 443.8L334.3 442.8L334.9 440.9L335.5 439.2L336.1 437.9L336.7 436.3L337.2 439.5L337.7 441.7L338.2 444.3L338.7 444.8L339.2 445.0L339.8 446.7L340.3 446.9L340.8 446.2L341.3 447.0L341.9 447.0L342.4 446.1L343.0 446.4L343.5 447.8L344.1 447.6L344.6 447.6L345.1 449.2L345.7 450.0L346.2 450.3L346.8 450.6L347.3 452.5L347.9 454.1L348.5 453.2L349.1 453.5L349.6 454.3L350.2 453.3L350.8 453.2L351.4 453.8L352.0 454.9L352.5 453.8L353.0 452.1L353.5 452.3L354.1 451.7L354.6 451.5L355.1 450.8L355.6 450.2L356.2 451.5L356.7 451.6L357.3 452.6L357.8 454.9L358.4 455.6L359.0 454.7L359.5 454.0L360.1 453.5L360.6 453.7L361.2 451.5L361.7 452.5L362.3 453.9L362.8 453.6L363.3 455.0L363.8 454.9L364.4 456.8L364.9 456.6L365.4 454.9L366.0 455.3L366.5 455.9L367.1 455.7L367.6 454.9L368.2 453.3L368.8 452.0L369.3 451.7L369.8 451.1L370.4 450.3L371.0 451.8L371.5 453.0L372.1 454.6L372.6 455.1L373.2 456.2L373.7 456.1L374.3 454.7L374.8 454.8L375.4 454.4L375.9 454.7L376.4 454.9L377.0 454.6L377.5 455.2L378.1 454.9L378.6 454.9L379.2 454.2L379.7 453.2L380.3 454.0L380.9 452.4L381.5 450.6L382.0 450.4L382.6 449.3L383.2 449.8L383.7 450.6L384.3 450.8L384.9 449.7L385.5 449.2L386.1 448.9L386.7 447.4L387.3 448.8L387.9 448.1L388.5 446.9L389.1 446.7L389.7 446.1L390.3 445.4L390.9 445.7L391.5 446.4L392.1 444.9L392.7 444.7L393.3 444.6L393.9 443.7L394.5 444.4L395.1 443.6L395.7 442.6L396.3 442.3L396.9 441.6L397.5 442.3L398.1 441.3L398.7 441.6L399.3 441.1L399.8 439.6L400.4 439.4L401.0 438.2L401.5 436.5L402.1 436.0L402.7 435.6L403.3 435.9L403.8 434.0L404.4 431.6L405.0 433.0L405.5 433.2L406.1 432.4L406.6 431.4L407.2 432.2L407.7 432.4L408.3 432.0L408.8 431.8L409.4 430.5L409.9 431.1L410.5 432.1L411.0 432.7L411.6 432.2L412.2 430.3L412.8 430.5L413.4 430.1L414.0 429.9L414.6 429.8L415.2 428.0L415.8 427.3L416.4 426.9L417.0 427.1L417.6 425.4L418.2 426.4L418.8 425.9L419.4 424.9L419.9 423.7L420.5 423.9L421.1 422.9L421.6 422.0L422.2 422.7L422.8 420.9L423.4 420.9L423.9 421.6L424.5 421.3L425.1 418.6L425.6 417.2L426.2 417.2L426.7 416.0L427.3 414.0L427.9 413.8L428.4 412.7L429.0 412.7L429.5 410.8L430.1 410.0L430.7 407.9L431.3 407.9L431.9 407.7L432.5 405.0L433.1 404.2L433.7 404.2L434.3 402.9L434.9 401.1L435.5 401.0L436.1 399.8L436.7 398.3L437.3 397.5L437.9 396.0L438.4 395.7L439.0 394.3L439.5 393.6L440.1 391.6L440.6 390.9L441.2 389.9L441.7 388.5L442.3 389.2L442.8 388.0L443.4 385.6L443.9 384.1L444.4 383.0L444.9 381.4L445.5 378.9L446.0 376.6L446.5 376.5L447.1 374.3L447.7 372.4L448.3 369.8L448.8 368.4L449.4 368.0L450.0 366.7L450.6 364.4L451.2 362.8L451.7 362.4L452.3 361.9L452.9 360.5L453.4 360.2L454.0 359.3L454.6 357.1L455.1 357.8L455.7 358.1L456.2 356.1L456.8 354.4L457.3 352.6L457.8 351.7L458.3 349.9L458.8 347.8L459.3 346.5L459.8 345.5L460.4 344.1L461.0 343.7L461.6 344.4L462.1 342.3L462.7 342.1L463.3 342.1L463.9 341.6L464.5 341.0L465.1 339.8L465.6 337.4L466.2 337.7L466.8 337.4L467.4 336.5L467.9 335.2L468.5 335.6L469.1 333.6L469.6 334.1L470.1 334.9L470.6 335.3L471.1 336.8L471.6 337.3L472.1 337.3L472.6 336.8L473.1 336.0L473.6 334.7L474.2 334.0L474.7 332.5L475.2 332.0L475.8 331.9L476.4 329.1L477.0 327.5L477.5 326.7L478.1 326.7L478.7 324.8L479.3 322.2L479.8 321.9L480.3 323.1L480.9 323.4L481.4 324.2L481.9 325.1L482.4 325.6L482.9 324.4L483.4 322.2L483.9 322.0L484.5 321.8L485.0 321.1L485.5 319.6" stroke="#111" stroke-width="1.35" fill="none" stroke-linejoin="round"/><text x="408.3" y="454.0" font-size="12.50" text-anchor="start" fill="#2a2a2a" >X</text><line x1="408.0" y1="442.4" x2="415.6" y2="442.4" stroke="#2a2a2a" stroke-width="0.9"/><text x="417.3" y="458.0" font-size="10.50" text-anchor="start" fill="#2a2a2a" font-style="italic" >(4,5,6)</text><text x="450.8" y="454.3" font-size="10.50" text-anchor="start" fill="#2a2a2a" >-</text><text x="458.9" y="454.0" font-size="12.50" text-anchor="start" fill="#2a2a2a" >X</text><line x1="458.6" y1="442.4" x2="466.2" y2="442.4" stroke="#2a2a2a" stroke-width="0.9"/><text x="467.9" y="458.0" font-size="10.50" text-anchor="start" fill="#2a2a2a" font-style="italic" >(1,2,3)</text><text x="0" y="0" font-size="23" font-style="italic" fill="#111" transform="translate(627.5 39.6) scale(0.960 1)">D</text><text x="602.8" y="91.9" font-size="17.50" text-anchor="start" fill="#1a1a1a" >HP</text><text x="602.6" y="110.9" font-size="17.50" text-anchor="start" fill="#1a1a1a" >-40</text><text x="658.8" y="81.7" font-size="17.50" text-anchor="start" fill="#1a1a1a" >ACh 3 &#956;M</text><line x1="659" y1="86.0" x2="686.8" y2="86.0" stroke="#111" stroke-width="1.8"/><line x1="661" y1="90.7" x2="661" y2="135.5" stroke="#555" stroke-width="1.2"/><line x1="687.2" y1="90.7" x2="687.2" y2="135.5" stroke="#222" stroke-width="1.2"/><text x="660.6" y="151.3" font-size="17.50" text-anchor="middle" fill="#1a1a1a" >a</text><text x="688.0" y="151.2" font-size="17.50" text-anchor="middle" fill="#1a1a1a" >b</text><path d="M634.9 101.9L635.1 98.8L635.3 103.7L635.6 99.4L635.8 103.6L636.0 105.1L636.2 100.2L636.4 103.4L636.7 103.3L636.9 103.4L637.1 98.6L637.3 102.8L637.5 102.2L637.8 103.7L638.0 102.2L638.2 104.5L638.4 102.2L638.6 101.8L638.9 104.2L639.1 103.5L639.3 104.3L639.5 101.8L639.7 103.2L640.0 101.8L640.2 104.7L640.4 105.8L640.6 102.7L640.8 104.2L641.1 103.7L641.3 100.1L641.5 103.5L641.7 106.0L641.9 102.2L642.2 99.1L642.4 103.2L642.6 101.2L642.8 106.2L643.0 101.5L643.3 101.0L643.5 101.2L643.7 103.2L643.9 101.3L644.1 100.1L644.4 102.5L644.6 101.9L644.8 105.7L645.0 100.5L645.2 102.9L645.5 102.1L645.7 100.6L645.9 105.6L646.1 97.7L646.3 106.2L646.6 100.7L646.8 103.1L647.0 107.6L647.2 98.8L647.4 100.4L647.7 105.1L647.9 102.1L648.1 101.7L648.3 103.1L648.5 101.0L648.8 104.2L649.0 106.8L649.2 102.2L649.4 103.2L649.6 105.0L649.9 106.9L650.1 101.2L650.3 102.2L650.5 101.7L650.7 102.5L651.0 102.9L651.2 102.6L651.4 99.9L651.6 99.7L651.8 102.5L652.1 103.5L652.3 106.0L652.5 102.6L652.7 102.9L652.9 106.2L653.2 106.4L653.4 104.2L653.6 104.2L653.8 107.8L654.0 103.4L654.3 103.1L654.5 100.4L654.7 104.0L654.9 103.2L655.1 107.3L655.4 102.1L655.6 105.4L655.8 105.6L656.0 106.4L656.2 100.0L656.5 106.3L656.7 103.4L656.9 103.0L657.1 102.6L657.3 103.1L657.6 103.0L657.8 97.2L658.0 103.2L658.2 103.1L658.4 101.0L658.7 102.0L658.9 107.2L659.1 103.9L659.3 101.7L659.5 105.3L659.8 100.3L660.0 102.2L660.2 101.7L660.4 102.1L660.6 102.9L660.9 102.7L661.1 100.2L661.3 101.7L661.5 102.3L661.7 101.2L662.0 102.6L662.2 101.4L662.4 101.4L662.6 102.8L662.8 101.0L663.1 104.3L663.3 103.3L663.5 102.1L663.7 101.9L663.9 102.4L664.2 104.9L664.4 105.8L664.6 104.9L664.8 103.8L665.0 108.3L665.3 106.6L665.5 105.7L665.7 108.7L665.9 107.5L666.1 106.2L666.4 107.0L666.6 112.2L666.8 108.9L667.0 109.2L667.2 106.5L667.5 108.3L667.7 111.4L667.9 108.5L668.1 110.2L668.3 109.4L668.6 108.5L668.8 110.7L669.0 108.9L669.2 110.9L669.4 108.3L669.7 114.5L669.9 109.1L670.1 109.1L670.3 112.4L670.5 108.5L670.8 109.7L671.0 108.9L671.2 110.9L671.4 109.5L671.6 110.4L671.9 109.7L672.1 109.6L672.3 110.7L672.5 112.4L672.7 112.4L673.0 115.1L673.2 114.6L673.4 114.4L673.6 111.6L673.8 114.7L674.1 111.8L674.3 114.9L674.5 114.3L674.7 113.0L674.9 113.1L675.2 113.7L675.4 120.0L675.6 115.7L675.8 116.4L676.0 119.7L676.3 117.8L676.5 119.3L676.7 115.4L676.9 116.1L677.1 125.8L677.4 118.6L677.6 118.5L677.8 119.6L678.0 121.4L678.2 117.7L678.5 120.9L678.7 120.6L678.9 121.9L679.1 121.3L679.3 120.1L679.6 119.8L679.8 117.7L680.0 125.0L680.2 119.9L680.4 123.4L680.7 128.1L680.9 122.9L681.1 125.0L681.3 124.1L681.5 126.2L681.8 124.9L682.0 123.7L682.2 127.4L682.4 124.5L682.6 122.8L682.9 125.0L683.1 126.0L683.3 122.7L683.5 126.1L683.7 125.2L684.0 128.5L684.2 122.3L684.4 124.6L684.6 120.3L684.8 121.8L685.1 122.9L685.3 124.3L685.5 123.0L685.7 122.6L685.9 122.2L686.2 123.0L686.4 124.2L686.6 124.1L686.8 123.9L687.0 124.7L687.3 125.8L687.5 120.3L687.7 122.8L687.9 123.9L688.1 122.7L688.4 125.4L688.6 124.8L688.8 124.1L689.0 123.8L689.2 125.5L689.5 123.3L689.7 123.3L689.9 126.6L690.1 126.2L690.3 127.5L690.6 124.5L690.8 125.2L691.0 122.9L691.2 121.9L691.4 124.0L691.7 118.5L691.9 124.9L692.1 126.9L692.3 125.2L692.5 123.9L692.8 125.2L693.0 123.3L693.2 126.5L693.4 128.4L693.6 124.7L693.9 125.4L694.1 124.3L694.3 123.8L694.5 123.6L694.7 122.4L695.0 124.8L695.2 119.1L695.4 121.8L695.6 124.4L695.8 120.7L696.1 122.3L696.3 121.4L696.5 123.4L696.7 124.5L696.9 125.2L697.2 122.9L697.4 119.9L697.6 121.7L697.8 122.6L698.0 125.3L698.3 119.0L698.5 122.8L698.7 118.4L698.9 124.3L699.1 123.3L699.4 123.6L699.6 125.0L699.8 123.6L700.0 121.2L700.2 123.6L700.5 125.1L700.7 122.5L700.9 123.3L701.1 120.5L701.3 125.1L701.6 122.2L701.8 122.6L702.0 123.3L702.2 121.8L702.4 123.3L702.7 126.9L702.9 125.9L703.1 127.5L703.3 126.7L703.5 121.1L703.8 123.7L704.0 125.1L704.2 127.5L704.4 120.6L704.6 118.7L704.9 121.9L705.1 120.6L705.3 119.2L705.5 122.0L705.7 118.8L706.0 115.5L706.2 120.1L706.4 120.2L706.6 120.8L706.8 121.2L707.1 119.8L707.3 118.4L707.5 117.1L707.7 115.4L707.9 117.5L708.2 120.5L708.4 119.3L708.6 121.5L708.8 117.1L709.0 114.1L709.3 119.3L709.5 119.3L709.7 115.1L709.9 113.4L710.1 116.8L710.4 118.1L710.6 114.0L710.8 115.7L711.0 115.1L711.2 114.6L711.5 114.5L711.7 117.1L711.9 115.0L712.1 114.0L712.3 110.4L712.6 119.9L712.8 114.2L713.0 114.8L713.2 112.6L713.4 115.9L713.7 111.8L713.9 114.5L714.1 112.8L714.3 115.1L714.5 112.6L714.8 113.9L715.0 113.3L715.2 117.9L715.4 111.0L715.6 115.4L715.9 114.4L716.1 115.0L716.3 116.0L716.5 115.1L716.7 115.3L717.0 115.7L717.2 113.3L717.4 114.3L717.6 111.4L717.8 114.3L718.1 114.1L718.3 114.3L718.5 115.7L718.7 116.3L718.9 118.1L719.2 118.3L719.4 111.6L719.6 118.0L719.8 116.5L720.0 116.5L720.3 114.2L720.5 118.8L720.7 120.3L720.9 118.9L721.1 117.7L721.4 120.5L721.6 119.9L721.8 121.4L722.0 120.4L722.2 118.3L722.5 118.7L722.7 118.8L722.9 118.4L723.1 116.4L723.3 119.4L723.6 116.7L723.8 116.9L724.0 118.8L724.2 116.2L724.4 117.2L724.7 112.7L724.9 118.9L725.1 117.6L725.3 116.3L725.5 117.2L725.8 117.3L726.0 115.0L726.2 120.6L726.4 116.5L726.6 118.6L726.9 120.6L727.1 116.6L727.3 117.7L727.5 115.2L727.7 119.5L728.0 117.2L728.2 114.5L728.4 118.7L728.6 118.2L728.8 114.5L729.1 118.1L729.3 116.6L729.5 122.4L729.7 120.0L729.9 116.0L730.2 116.3L730.4 114.5L730.6 116.9L730.8 116.5L731.0 117.8L731.3 117.0L731.5 114.0L731.7 115.6L731.9 119.7L732.1 118.8L732.4 115.9L732.6 115.9L732.8 116.1L733.0 117.2L733.2 114.4L733.5 119.3L733.7 116.7L733.9 118.7L734.1 112.9L734.3 117.6L734.6 118.9L734.8 112.1L735.0 120.1L735.2 117.7L735.4 115.3L735.7 113.1L735.9 119.4L736.1 117.8L736.3 117.5L736.5 116.5L736.8 115.0L737.0 118.4L737.2 115.9L737.4 119.0L737.6 113.0L737.9 114.4L738.1 113.0L738.3 119.3L738.5 114.0L738.7 114.2L739.0 117.4L739.2 117.1L739.4 122.0L739.6 120.5L739.8 117.2L740.1 117.1L740.3 112.5L740.5 115.2L740.7 117.0L740.9 117.2L741.2 113.6L741.4 114.2L741.6 114.9L741.8 118.3L742.0 117.0L742.3 116.2L742.5 115.8L742.7 116.4L742.9 115.1L743.1 117.1L743.4 113.5L743.6 117.7L743.8 119.2L744.0 117.5L744.2 116.9L744.5 116.4L744.7 119.7L744.9 116.5L745.1 113.3L745.3 113.6L745.6 116.6L745.8 117.0L746.0 116.7L746.2 117.7L746.4 116.5L746.7 112.5L746.9 114.6L747.1 113.0L747.3 115.2L747.5 112.7L747.8 116.2L748.0 116.1L748.2 111.9L748.4 117.2L748.6 117.6L748.9 113.6L749.1 116.4L749.3 117.4L749.5 115.9L749.7 117.4L750.0 116.3L750.2 118.9L750.4 116.1L750.6 115.8L750.8 117.2L751.1 116.5L751.3 115.8L751.5 115.1L751.7 114.8L751.9 115.2L752.2 115.1L752.4 116.9L752.6 116.7L752.8 117.2L753.0 116.8L753.3 114.7L753.5 117.2L753.7 117.1L753.9 113.6L754.1 116.1L754.4 114.0L754.6 113.8L754.8 113.9L755.0 113.5L755.2 110.9L755.5 109.1L755.7 115.6L755.9 117.1L756.1 112.9L756.3 115.3L756.6 113.2L756.8 115.4L757.0 113.7L757.2 114.8L757.4 114.6L757.7 109.7L757.9 115.8L758.1 115.9L758.3 110.6L758.5 116.0L758.8 114.6L759.0 115.4L759.2 116.8L759.4 116.4L759.6 114.4L759.9 115.6L760.1 117.3L760.3 123.6L760.5 121.3L760.7 116.2L761.0 116.6L761.2 117.5L761.4 118.9L761.6 118.3L761.8 118.5L762.1 123.6L762.3 121.0L762.5 115.8L762.7 116.0L762.9 117.2L763.2 118.0L763.4 120.2L763.6 119.3L763.8 116.6L764.0 120.4L764.3 121.1L764.5 119.5L764.7 118.1L764.9 121.3L765.1 120.2L765.4 117.2L765.6 119.6L765.8 116.7L766.0 120.3L766.2 119.8L766.5 118.1L766.7 120.8L766.9 121.7L767.1 114.8L767.3 119.8L767.6 122.9L767.8 114.9L768.0 118.4L768.2 117.5L768.4 120.1L768.7 114.3L768.9 115.1L769.1 118.7L769.3 121.2L769.5 121.6L769.8 121.3L770.0 122.8L770.2 121.9L770.4 121.8L770.6 118.2L770.9 120.3L771.1 127.2L771.3 125.1L771.5 122.1L771.7 120.5L772.0 121.0L772.2 117.4L772.4 121.1L772.6 116.8L772.8 117.2L773.1 119.8L773.3 110.3L773.5 116.3L773.7 111.7L773.9 111.8L774.2 111.9L774.4 112.4L774.6 113.6L774.8 112.4L775.0 113.8L775.3 111.6L775.5 113.8L775.7 110.6L775.9 114.2L776.1 110.7L776.4 115.4L776.6 113.8L776.8 114.0L777.0 117.1L777.2 114.6L777.5 108.9L777.7 114.7L777.9 109.5L778.1 116.3L778.3 114.5L778.6 113.1L778.8 117.8L779.0 117.0L779.2 120.9L779.4 115.7L779.7 122.2L779.9 121.6L780.1 117.1L780.3 117.4L780.5 122.2L780.8 118.3L781.0 119.0L781.2 119.1L781.4 117.0L781.6 119.0L781.9 117.4L782.1 115.9L782.3 118.6L782.5 123.5L782.7 123.2L783.0 119.7L783.2 119.7L783.4 119.9L783.6 121.8L783.8 119.3L784.1 117.6L784.3 117.5L784.5 120.2L784.7 122.2L784.9 115.7L785.2 113.1L785.4 118.2L785.6 116.0L785.8 116.7L786.0 118.7L786.3 115.8L786.5 113.5L786.7 112.5L786.9 116.2L787.1 113.1L787.4 114.8L787.6 111.6L787.8 114.3L788.0 111.5L788.2 113.4L788.5 112.6L788.7 113.9L788.9 115.6L789.1 112.9L789.3 110.1L789.6 115.4L789.8 112.3L790.0 112.4L790.2 112.0L790.4 113.4" stroke="#111" stroke-width="1.4" fill="none" stroke-linejoin="round"/><text x="0" y="0" font-size="23" font-style="italic" fill="#111" transform="translate(627.7 249.6) scale(0.930 1)">E</text><path d="M658.2 275V461.3" stroke="#111" stroke-width="1.6" fill="none"/><path d="M658.2 347.0H790.6" stroke="#111" stroke-width="1.6" fill="none"/><line x1="651.5" y1="284.4" x2="658.2" y2="284.4" stroke="#111" stroke-width="1.5"/><line x1="651.5" y1="315.6" x2="658.2" y2="315.6" stroke="#111" stroke-width="1.5"/><line x1="651.5" y1="347.0" x2="658.2" y2="347.0" stroke="#111" stroke-width="1.5"/><line x1="651.5" y1="378.3" x2="658.2" y2="378.3" stroke="#111" stroke-width="1.5"/><line x1="651.5" y1="409.6" x2="658.2" y2="409.6" stroke="#111" stroke-width="1.5"/><line x1="651.5" y1="440.6" x2="658.2" y2="440.6" stroke="#111" stroke-width="1.5"/><line x1="684.6" y1="347" x2="684.6" y2="352.6" stroke="#111" stroke-width="1.5"/><line x1="711.7" y1="347" x2="711.7" y2="352.6" stroke="#111" stroke-width="1.5"/><line x1="738.8" y1="347" x2="738.8" y2="352.6" stroke="#111" stroke-width="1.5"/><line x1="765.4" y1="347" x2="765.4" y2="352.6" stroke="#111" stroke-width="1.5"/><text x="646.0" y="292.8" font-size="17.50" text-anchor="end" fill="#1a1a1a" >20</text><text x="646.0" y="323.7" font-size="17.50" text-anchor="end" fill="#1a1a1a" >10</text><text x="644.0" y="354.6" font-size="17.50" text-anchor="end" fill="#1a1a1a" >0</text><text x="647.4" y="386.0" font-size="17.50" text-anchor="end" fill="#1a1a1a" >-10</text><text x="647.4" y="417.0" font-size="17.50" text-anchor="end" fill="#1a1a1a" >-20</text><text x="647.4" y="447.6" font-size="17.50" text-anchor="end" fill="#1a1a1a" >-30</text><text x="661.6" y="292.8" font-size="17.50" text-anchor="start" fill="#1a1a1a" >pA</text><text x="710.0" y="334.6" font-size="17.50" text-anchor="middle" fill="#1a1a1a" >-80</text><text x="763.9" y="334.6" font-size="17.50" text-anchor="middle" fill="#1a1a1a" >-40</text><text x="762.2" y="439.8" font-size="17.50" text-anchor="start" fill="#1a1a1a" >b-a</text><text x="0" y="0" font-size="17.5" fill="#1a1a1a" transform="translate(616.4 408.3) rotate(-90)">ACh-current</text><path d="M681.3 441.9L681.8 443.8L682.3 445.9L682.8 452.5L683.3 457.9L683.8 451.6L684.3 444.1L684.8 436.5L685.3 440.8L685.8 444.6L686.3 447.0L686.8 450.9L687.3 449.5L687.8 447.4L688.4 444.6L688.9 442.5L689.4 441.5L689.9 442.0L690.5 440.6L691.0 438.7L691.5 437.3L692.0 437.3L692.5 437.9L693.1 437.5L693.6 436.0L694.1 440.6L694.6 442.9L695.1 444.6L695.6 447.4L696.1 449.8L696.7 451.1L697.2 453.3L697.7 457.2L698.2 455.3L698.7 453.3L699.2 453.2L699.7 451.4L700.2 449.9L700.8 449.5L701.3 448.6L701.8 449.7L702.3 452.5L702.8 455.3L703.3 458.8L703.8 461.3L704.3 458.5L704.8 455.3L705.4 453.8L705.9 451.6L706.4 451.4L706.9 449.9L707.4 448.4L707.9 447.6L708.4 446.9L708.9 446.6L709.4 447.3L710.0 450.5L710.5 452.0L711.0 453.8L711.5 453.6L712.0 453.4L712.5 452.7L713.0 452.7L713.5 454.2L714.0 455.2L714.6 457.7L715.1 458.2L715.6 455.1L716.1 453.6L716.7 450.5L717.2 448.3L717.7 443.7L718.2 440.5L718.7 440.5L719.2 437.4L719.8 435.4L720.3 433.4L720.8 431.1L721.3 430.4L721.8 429.8L722.3 429.0L722.8 430.1L723.3 429.5L723.8 430.1L724.3 432.0L724.8 432.8L725.3 431.9L725.9 430.2L726.5 428.2L727.1 426.7L727.6 424.9L728.2 424.7L728.8 422.1L729.4 420.3L729.9 422.8L730.5 422.5L731.0 422.2L731.5 424.3L732.1 423.2L732.7 421.3L733.3 419.3L733.8 417.7L734.4 416.7L735.0 415.5L735.6 412.8L736.1 414.7L736.6 415.6L737.1 415.4L737.6 414.7L738.1 415.1L738.6 416.7L739.1 418.1L739.6 417.9L740.2 418.8L740.7 421.2L741.2 422.0L741.7 420.9L742.2 421.4L742.7 422.9L743.2 424.5L743.8 424.5L744.3 425.3L744.8 426.5L745.3 427.1L745.8 427.1L746.3 426.1L746.9 425.1L747.4 425.5L747.9 426.6L748.5 426.6L749.1 425.1L749.7 423.0L750.2 421.8L750.8 423.8L751.4 423.6L752.0 423.0L752.6 421.9L753.2 421.9L753.8 422.5L754.3 422.5L754.9 420.0L755.5 419.3L756.1 418.9L756.7 418.2L757.3 417.0L757.9 414.8L758.4 414.5L759.0 413.6L759.6 411.6L760.2 410.1L760.8 409.6L761.4 407.3L762.0 405.9L762.5 405.2L763.1 405.1L763.7 404.7L764.3 404.6L764.9 403.1L765.5 402.2L766.1 401.4L766.6 402.4L767.2 401.3L767.8 399.9L768.4 399.9L768.9 399.9L769.4 397.8L769.9 396.3L770.4 396.2L770.9 396.4L771.4 394.9L772.0 394.4L772.6 393.2L773.1 392.5L773.7 393.1L774.3 393.5L774.9 392.5L775.4 392.3L776.0 392.5L776.6 392.0L777.2 391.1L777.8 390.4L778.4 392.2L778.9 391.3L779.5 390.2L780.1 389.2L780.7 390.6L781.2 390.3L781.7 391.1L782.2 391.1L782.7 391.8L783.2 393.2L783.7 393.7L784.2 390.0L784.7 389.6L785.2 390.1L785.8 388.0L786.3 386.5L786.8 385.3L787.3 383.6L787.9 383.2L788.4 382.7L788.9 381.1L789.4 380.4L790.0 377.4L790.5 375.7" stroke="#111" stroke-width="1.4" fill="none" stroke-linejoin="round"/></svg></body></html>
